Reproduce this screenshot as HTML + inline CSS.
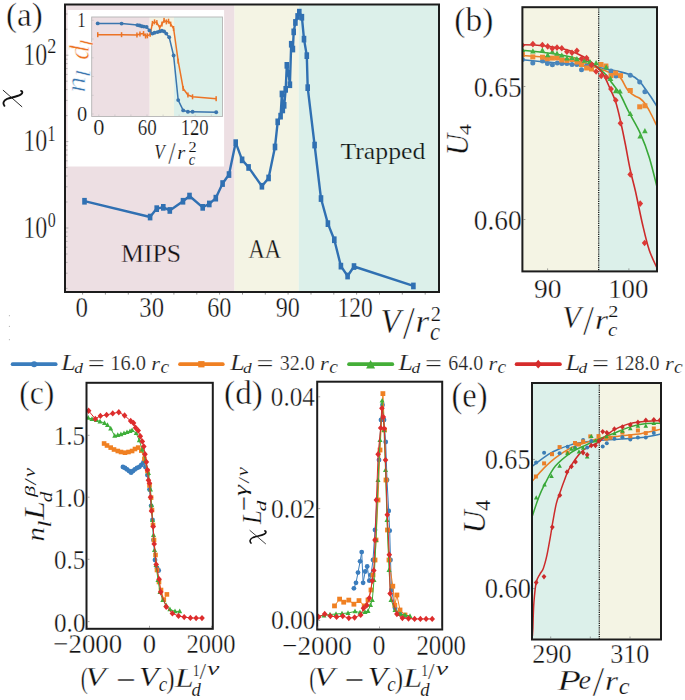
<!DOCTYPE html>
<html><head><meta charset="utf-8"><style>
html,body{margin:0;padding:0;background:#fff;}
svg{display:block;}
</style></head><body>
<svg width="685" height="700" viewBox="0 0 685 700">
<rect x="0" y="0" width="685" height="700" fill="#ffffff"/>
<rect x="65.0" y="4.5" width="169.50" height="287.50" fill="#eddfe3" />
<rect x="234.5" y="4.5" width="64.30" height="287.50" fill="#f4f4e4" />
<rect x="298.8" y="4.5" width="140.20" height="287.50" fill="#dcf0ea" />
<rect x="67.6" y="10.0" width="156.50" height="156.50" fill="#ffffff" />
<rect x="91.7" y="17.0" width="58.00" height="99.50" fill="#eddfe3" />
<rect x="149.7" y="17.0" width="24.30" height="99.50" fill="#f4f4e4" />
<rect x="174.0" y="17.0" width="48.50" height="99.50" fill="#dcf0ea" />
<rect x="91.7" y="17.0" width="130.80" height="99.50" fill="none" stroke="#b4b4b4" stroke-width="0.9"/>
<line x1="98.8" y1="116.5" x2="98.8" y2="114.5" stroke="#c0c0c0" stroke-width="0.6"/>
<line x1="114.9" y1="116.5" x2="114.9" y2="114.5" stroke="#c0c0c0" stroke-width="0.6"/>
<line x1="130.9" y1="116.5" x2="130.9" y2="114.5" stroke="#c0c0c0" stroke-width="0.6"/>
<line x1="147.0" y1="116.5" x2="147.0" y2="114.5" stroke="#c0c0c0" stroke-width="0.6"/>
<line x1="163.1" y1="116.5" x2="163.1" y2="114.5" stroke="#c0c0c0" stroke-width="0.6"/>
<line x1="179.1" y1="116.5" x2="179.1" y2="114.5" stroke="#c0c0c0" stroke-width="0.6"/>
<line x1="195.2" y1="116.5" x2="195.2" y2="114.5" stroke="#c0c0c0" stroke-width="0.6"/>
<line x1="211.3" y1="116.5" x2="211.3" y2="114.5" stroke="#c0c0c0" stroke-width="0.6"/>
<line x1="91.7" y1="114.0" x2="93.7" y2="114.0" stroke="#c0c0c0" stroke-width="0.6"/>
<line x1="91.7" y1="95.3" x2="93.7" y2="95.3" stroke="#c0c0c0" stroke-width="0.6"/>
<line x1="91.7" y1="76.5" x2="93.7" y2="76.5" stroke="#c0c0c0" stroke-width="0.6"/>
<line x1="91.7" y1="57.8" x2="93.7" y2="57.8" stroke="#c0c0c0" stroke-width="0.6"/>
<line x1="91.7" y1="39.0" x2="93.7" y2="39.0" stroke="#c0c0c0" stroke-width="0.6"/>
<line x1="91.7" y1="20.3" x2="93.7" y2="20.3" stroke="#c0c0c0" stroke-width="0.6"/>
<polyline points="97.7,34.7 121.6,34.7 137.0,35.0 140.0,34.0 143.6,33.6 145.5,36.0 147.3,35.8 150.2,34.3 152.4,23.4 154.6,21.9 156.8,22.6 159.7,27.7 161.9,24.1 164.1,20.4 166.3,21.9 168.5,21.2 170.7,24.1 173.6,28.5 178.2,61.2 183.2,88.5 187.9,95.0 192.6,96.8 216.2,98.7" fill="none" stroke="#ec7325" stroke-width="1.5" stroke-linejoin="round" />
<rect x="97.0" y="32.2" width="1.5" height="5.0" fill="#ec7325"/>
<rect x="120.8" y="32.2" width="1.5" height="5.0" fill="#ec7325"/>
<rect x="136.2" y="32.5" width="1.5" height="5.0" fill="#ec7325"/>
<rect x="139.2" y="31.5" width="1.5" height="5.0" fill="#ec7325"/>
<rect x="142.8" y="31.1" width="1.5" height="5.0" fill="#ec7325"/>
<rect x="144.8" y="33.5" width="1.5" height="5.0" fill="#ec7325"/>
<rect x="146.6" y="33.3" width="1.5" height="5.0" fill="#ec7325"/>
<rect x="149.4" y="31.8" width="1.5" height="5.0" fill="#ec7325"/>
<rect x="151.7" y="20.9" width="1.5" height="5.0" fill="#ec7325"/>
<rect x="153.8" y="19.4" width="1.5" height="5.0" fill="#ec7325"/>
<rect x="156.1" y="20.1" width="1.5" height="5.0" fill="#ec7325"/>
<rect x="158.9" y="25.2" width="1.5" height="5.0" fill="#ec7325"/>
<rect x="161.2" y="21.6" width="1.5" height="5.0" fill="#ec7325"/>
<rect x="163.3" y="17.9" width="1.5" height="5.0" fill="#ec7325"/>
<rect x="165.6" y="19.4" width="1.5" height="5.0" fill="#ec7325"/>
<rect x="167.8" y="18.7" width="1.5" height="5.0" fill="#ec7325"/>
<rect x="169.9" y="21.6" width="1.5" height="5.0" fill="#ec7325"/>
<rect x="172.8" y="26.0" width="1.5" height="5.0" fill="#ec7325"/>
<rect x="177.4" y="58.7" width="1.5" height="5.0" fill="#ec7325"/>
<rect x="182.4" y="86.0" width="1.5" height="5.0" fill="#ec7325"/>
<rect x="187.2" y="92.5" width="1.5" height="5.0" fill="#ec7325"/>
<rect x="191.8" y="94.3" width="1.5" height="5.0" fill="#ec7325"/>
<rect x="215.4" y="96.2" width="1.5" height="5.0" fill="#ec7325"/>
<polyline points="97.7,23.4 121.6,23.6 137.4,25.1 139.6,25.5 141.8,26.3 143.9,26.6 146.6,27.0 149.5,30.4 152.4,33.6 154.6,32.8 157.5,32.1 159.7,31.4 161.9,30.7 164.1,31.4 166.3,33.6 169.2,37.2 173.6,55.5 178.2,100.1 183.2,110.4 187.9,111.8 192.6,111.8 216.2,112.3" fill="none" stroke="#3a75ae" stroke-width="1.5" stroke-linejoin="round" />
<circle cx="97.7" cy="23.4" r="1.95" fill="#3a75ae"/>
<circle cx="121.6" cy="23.6" r="1.95" fill="#3a75ae"/>
<circle cx="137.4" cy="25.1" r="1.95" fill="#3a75ae"/>
<circle cx="139.6" cy="25.5" r="1.95" fill="#3a75ae"/>
<circle cx="141.8" cy="26.3" r="1.95" fill="#3a75ae"/>
<circle cx="143.9" cy="26.6" r="1.95" fill="#3a75ae"/>
<circle cx="146.6" cy="27.0" r="1.95" fill="#3a75ae"/>
<circle cx="149.5" cy="30.4" r="1.95" fill="#3a75ae"/>
<circle cx="152.4" cy="33.6" r="1.95" fill="#3a75ae"/>
<circle cx="154.6" cy="32.8" r="1.95" fill="#3a75ae"/>
<circle cx="157.5" cy="32.1" r="1.95" fill="#3a75ae"/>
<circle cx="159.7" cy="31.4" r="1.95" fill="#3a75ae"/>
<circle cx="161.9" cy="30.7" r="1.95" fill="#3a75ae"/>
<circle cx="164.1" cy="31.4" r="1.95" fill="#3a75ae"/>
<circle cx="166.3" cy="33.6" r="1.95" fill="#3a75ae"/>
<circle cx="169.2" cy="37.2" r="1.95" fill="#3a75ae"/>
<circle cx="173.6" cy="55.5" r="1.95" fill="#3a75ae"/>
<circle cx="178.2" cy="100.1" r="1.95" fill="#3a75ae"/>
<circle cx="183.2" cy="110.4" r="1.95" fill="#3a75ae"/>
<circle cx="187.9" cy="111.8" r="1.95" fill="#3a75ae"/>
<circle cx="192.6" cy="111.8" r="1.95" fill="#3a75ae"/>
<circle cx="216.2" cy="112.3" r="1.95" fill="#3a75ae"/>
<rect x="65.0" y="4.5" width="374.00" height="287.50" fill="none" stroke="#1c1c1c" stroke-width="2.0"/>
<line x1="66.0" y1="288.4" x2="67.5" y2="288.4" stroke="#888" stroke-width="0.6"/>
<line x1="66.0" y1="273.2" x2="67.5" y2="273.2" stroke="#888" stroke-width="0.6"/>
<line x1="66.0" y1="262.4" x2="67.5" y2="262.4" stroke="#888" stroke-width="0.6"/>
<line x1="66.0" y1="254.0" x2="67.5" y2="254.0" stroke="#888" stroke-width="0.6"/>
<line x1="66.0" y1="247.2" x2="67.5" y2="247.2" stroke="#888" stroke-width="0.6"/>
<line x1="66.0" y1="241.4" x2="67.5" y2="241.4" stroke="#888" stroke-width="0.6"/>
<line x1="66.0" y1="236.4" x2="67.5" y2="236.4" stroke="#888" stroke-width="0.6"/>
<line x1="66.0" y1="232.0" x2="67.5" y2="232.0" stroke="#888" stroke-width="0.6"/>
<line x1="66.0" y1="228.0" x2="68.4" y2="228.0" stroke="#888" stroke-width="0.6"/>
<line x1="66.0" y1="202.0" x2="67.5" y2="202.0" stroke="#888" stroke-width="0.6"/>
<line x1="66.0" y1="186.8" x2="67.5" y2="186.8" stroke="#888" stroke-width="0.6"/>
<line x1="66.0" y1="176.0" x2="67.5" y2="176.0" stroke="#888" stroke-width="0.6"/>
<line x1="66.0" y1="167.6" x2="67.5" y2="167.6" stroke="#888" stroke-width="0.6"/>
<line x1="66.0" y1="160.8" x2="67.5" y2="160.8" stroke="#888" stroke-width="0.6"/>
<line x1="66.0" y1="155.0" x2="67.5" y2="155.0" stroke="#888" stroke-width="0.6"/>
<line x1="66.0" y1="150.0" x2="67.5" y2="150.0" stroke="#888" stroke-width="0.6"/>
<line x1="66.0" y1="145.6" x2="67.5" y2="145.6" stroke="#888" stroke-width="0.6"/>
<line x1="66.0" y1="141.6" x2="68.4" y2="141.6" stroke="#888" stroke-width="0.6"/>
<line x1="66.0" y1="115.6" x2="67.5" y2="115.6" stroke="#888" stroke-width="0.6"/>
<line x1="66.0" y1="100.4" x2="67.5" y2="100.4" stroke="#888" stroke-width="0.6"/>
<line x1="66.0" y1="89.6" x2="67.5" y2="89.6" stroke="#888" stroke-width="0.6"/>
<line x1="66.0" y1="81.2" x2="67.5" y2="81.2" stroke="#888" stroke-width="0.6"/>
<line x1="66.0" y1="74.4" x2="67.5" y2="74.4" stroke="#888" stroke-width="0.6"/>
<line x1="66.0" y1="68.6" x2="67.5" y2="68.6" stroke="#888" stroke-width="0.6"/>
<line x1="66.0" y1="63.6" x2="67.5" y2="63.6" stroke="#888" stroke-width="0.6"/>
<line x1="66.0" y1="59.2" x2="67.5" y2="59.2" stroke="#888" stroke-width="0.6"/>
<line x1="66.0" y1="55.2" x2="68.4" y2="55.2" stroke="#888" stroke-width="0.6"/>
<line x1="66.0" y1="29.2" x2="67.5" y2="29.2" stroke="#888" stroke-width="0.6"/>
<line x1="66.0" y1="14.0" x2="67.5" y2="14.0" stroke="#888" stroke-width="0.6"/>
<line x1="82.6" y1="293.0" x2="82.6" y2="294.6" stroke="#666" stroke-width="0.7"/>
<line x1="105.4" y1="293.0" x2="105.4" y2="294.6" stroke="#666" stroke-width="0.7"/>
<line x1="128.3" y1="293.0" x2="128.3" y2="294.6" stroke="#666" stroke-width="0.7"/>
<line x1="151.1" y1="293.0" x2="151.1" y2="294.6" stroke="#666" stroke-width="0.7"/>
<line x1="173.9" y1="293.0" x2="173.9" y2="294.6" stroke="#666" stroke-width="0.7"/>
<line x1="196.8" y1="293.0" x2="196.8" y2="294.6" stroke="#666" stroke-width="0.7"/>
<line x1="219.6" y1="293.0" x2="219.6" y2="294.6" stroke="#666" stroke-width="0.7"/>
<line x1="242.5" y1="293.0" x2="242.5" y2="294.6" stroke="#666" stroke-width="0.7"/>
<line x1="265.3" y1="293.0" x2="265.3" y2="294.6" stroke="#666" stroke-width="0.7"/>
<line x1="288.1" y1="293.0" x2="288.1" y2="294.6" stroke="#666" stroke-width="0.7"/>
<line x1="311.0" y1="293.0" x2="311.0" y2="294.6" stroke="#666" stroke-width="0.7"/>
<line x1="333.8" y1="293.0" x2="333.8" y2="294.6" stroke="#666" stroke-width="0.7"/>
<line x1="356.6" y1="293.0" x2="356.6" y2="294.6" stroke="#666" stroke-width="0.7"/>
<line x1="379.5" y1="293.0" x2="379.5" y2="294.6" stroke="#666" stroke-width="0.7"/>
<line x1="402.3" y1="293.0" x2="402.3" y2="294.6" stroke="#666" stroke-width="0.7"/>
<line x1="425.2" y1="293.0" x2="425.2" y2="294.6" stroke="#666" stroke-width="0.7"/>
<polyline points="84.5,201.2 150.1,217.0 156.7,208.6 163.3,207.3 169.8,210.4 183.0,201.2 189.5,196.0 202.7,207.3 209.3,203.9 215.8,198.1 222.6,183.5 229.0,174.5 235.7,142.6 242.1,159.8 248.6,167.4 261.9,186.2 268.6,177.9 275.0,146.9 277.7,121.8 280.6,116.1 281.9,93.9 282.8,109.9 284.2,105.3 285.7,89.3 286.8,65.3 288.5,73.3 289.9,84.7 291.2,44.2 292.9,49.0 293.7,31.8 295.4,22.4 297.6,16.4 299.3,12.1 301.9,17.2 304.0,39.1 306.8,55.6 307.7,87.6 314.6,145.0 321.0,198.5 327.9,223.6 334.3,239.7 340.9,266.1 347.6,276.0 354.0,266.5 413.4,285.9" fill="none" stroke="#3070b2" stroke-width="2.4" stroke-linejoin="round" />
<rect x="82.2" y="197.9" width="4.6" height="6.7" fill="#3070b2"/>
<rect x="147.8" y="213.7" width="4.6" height="6.7" fill="#3070b2"/>
<rect x="154.4" y="205.3" width="4.6" height="6.7" fill="#3070b2"/>
<rect x="161.0" y="204.0" width="4.6" height="6.7" fill="#3070b2"/>
<rect x="167.5" y="207.1" width="4.6" height="6.7" fill="#3070b2"/>
<rect x="180.7" y="197.9" width="4.6" height="6.7" fill="#3070b2"/>
<rect x="187.2" y="192.7" width="4.6" height="6.7" fill="#3070b2"/>
<rect x="200.4" y="204.0" width="4.6" height="6.7" fill="#3070b2"/>
<rect x="207.0" y="200.6" width="4.6" height="6.7" fill="#3070b2"/>
<rect x="213.5" y="194.8" width="4.6" height="6.7" fill="#3070b2"/>
<rect x="220.3" y="180.2" width="4.6" height="6.7" fill="#3070b2"/>
<rect x="226.7" y="171.2" width="4.6" height="6.7" fill="#3070b2"/>
<rect x="233.4" y="139.3" width="4.6" height="6.7" fill="#3070b2"/>
<rect x="239.8" y="156.5" width="4.6" height="6.7" fill="#3070b2"/>
<rect x="246.3" y="164.1" width="4.6" height="6.7" fill="#3070b2"/>
<rect x="259.6" y="182.9" width="4.6" height="6.7" fill="#3070b2"/>
<rect x="266.3" y="174.6" width="4.6" height="6.7" fill="#3070b2"/>
<rect x="272.7" y="143.6" width="4.6" height="6.7" fill="#3070b2"/>
<rect x="275.4" y="118.5" width="4.6" height="6.7" fill="#3070b2"/>
<rect x="278.3" y="112.8" width="4.6" height="6.7" fill="#3070b2"/>
<rect x="279.6" y="90.6" width="4.6" height="6.7" fill="#3070b2"/>
<rect x="280.5" y="106.6" width="4.6" height="6.7" fill="#3070b2"/>
<rect x="281.9" y="102.0" width="4.6" height="6.7" fill="#3070b2"/>
<rect x="283.4" y="86.0" width="4.6" height="6.7" fill="#3070b2"/>
<rect x="284.5" y="62.0" width="4.6" height="6.7" fill="#3070b2"/>
<rect x="286.2" y="70.0" width="4.6" height="6.7" fill="#3070b2"/>
<rect x="287.6" y="81.4" width="4.6" height="6.7" fill="#3070b2"/>
<rect x="288.9" y="40.9" width="4.6" height="6.7" fill="#3070b2"/>
<rect x="290.6" y="45.7" width="4.6" height="6.7" fill="#3070b2"/>
<rect x="291.4" y="28.5" width="4.6" height="6.7" fill="#3070b2"/>
<rect x="293.1" y="19.1" width="4.6" height="6.7" fill="#3070b2"/>
<rect x="295.3" y="13.1" width="4.6" height="6.7" fill="#3070b2"/>
<rect x="297.0" y="8.8" width="4.6" height="6.7" fill="#3070b2"/>
<rect x="299.6" y="13.9" width="4.6" height="6.7" fill="#3070b2"/>
<rect x="301.7" y="35.8" width="4.6" height="6.7" fill="#3070b2"/>
<rect x="304.5" y="52.3" width="4.6" height="6.7" fill="#3070b2"/>
<rect x="305.4" y="84.3" width="4.6" height="6.7" fill="#3070b2"/>
<rect x="312.3" y="141.7" width="4.6" height="6.7" fill="#3070b2"/>
<rect x="318.7" y="195.2" width="4.6" height="6.7" fill="#3070b2"/>
<rect x="325.6" y="220.3" width="4.6" height="6.7" fill="#3070b2"/>
<rect x="332.0" y="236.4" width="4.6" height="6.7" fill="#3070b2"/>
<rect x="338.6" y="262.8" width="4.6" height="6.7" fill="#3070b2"/>
<rect x="345.3" y="272.7" width="4.6" height="6.7" fill="#3070b2"/>
<rect x="351.7" y="263.2" width="4.6" height="6.7" fill="#3070b2"/>
<rect x="411.1" y="282.6" width="4.6" height="6.7" fill="#3070b2"/>
<text transform="translate(5.91,25.95) scale(0.9696,1)" font-size="34.18" font-family='"Liberation Serif", serif' font-style="normal" fill="#111" stroke="#ffffff" stroke-width="0.46">(a)</text>
<text transform="translate(23.27,65.09) scale(0.7827,1)" font-size="30.52" font-family='"Liberation Serif", serif' font-style="normal" fill="#111" stroke="#ffffff" stroke-width="0.39">10</text>
<text transform="translate(47.28,53.20) scale(0.8482,1)" font-size="21.52" font-family='"Liberation Serif", serif' font-style="normal" fill="#111" stroke="#ffffff" stroke-width="0.21">2</text>
<text transform="translate(23.26,151.39) scale(0.7864,1)" font-size="30.52" font-family='"Liberation Serif", serif' font-style="normal" fill="#111" stroke="#ffffff" stroke-width="0.39">10</text>
<text transform="translate(47.44,140.60) scale(0.7258,1)" font-size="22.12" font-family='"Liberation Serif", serif' font-style="normal" fill="#111" stroke="#ffffff" stroke-width="0.22">1</text>
<text transform="translate(23.26,237.89) scale(0.7864,1)" font-size="30.52" font-family='"Liberation Serif", serif' font-style="normal" fill="#111" stroke="#ffffff" stroke-width="0.39">10</text>
<text transform="translate(47.86,226.79) scale(0.7426,1)" font-size="21.48" font-family='"Liberation Serif", serif' font-style="normal" fill="#111" stroke="#ffffff" stroke-width="0.21">0</text>
<path d="M3.21,90.32 L21.87,106.68" stroke="#111" stroke-width="0.9" fill="none" stroke-linecap="round"/>
<path d="M4.45,105.81 C2.60,103.72 3.01,100.59 7.11,98.85 C11.21,97.46 16.95,96.76 20.64,94.67 C23.10,93.28 22.69,91.19 21.05,90.84" stroke="#111" stroke-width="1.9" fill="none" stroke-linecap="round"/>
<text transform="translate(75.60,317.21) scale(0.8654,1)" font-size="28.89" font-family='"Liberation Serif", serif' font-style="normal" fill="#111" stroke="#ffffff" stroke-width="0.36">0</text>
<text transform="translate(139.29,317.21) scale(0.8550,1)" font-size="28.89" font-family='"Liberation Serif", serif' font-style="normal" fill="#111" stroke="#ffffff" stroke-width="0.36">30</text>
<text transform="translate(207.23,317.21) scale(0.8390,1)" font-size="28.89" font-family='"Liberation Serif", serif' font-style="normal" fill="#111" stroke="#ffffff" stroke-width="0.36">60</text>
<text transform="translate(275.68,317.21) scale(0.8337,1)" font-size="28.89" font-family='"Liberation Serif", serif' font-style="normal" fill="#111" stroke="#ffffff" stroke-width="0.36">90</text>
<text transform="translate(337.60,317.21) scale(0.8131,1)" font-size="28.89" font-family='"Liberation Serif", serif' font-style="normal" fill="#111" stroke="#ffffff" stroke-width="0.36">120</text>
<text transform="translate(380.55,332.31) scale(1.0043,1)" font-size="32.84" font-family='"Liberation Serif", serif' font-style="italic" fill="#111" stroke="#ffffff" stroke-width="0.37">V</text>
<text transform="translate(402.80,339.34) scale(0.9666,1)" font-size="45.52" font-family='"Liberation Serif", serif' font-style="normal" fill="#111" stroke="#ffffff" stroke-width="0.69">/</text>
<text transform="translate(415.49,332.30) scale(1.1313,1)" font-size="31.06" font-family='"Liberation Serif", serif' font-style="italic" fill="#111" stroke="#ffffff" stroke-width="0.34">r</text>
<text transform="translate(430.78,320.50) scale(0.9462,1)" font-size="21.67" font-family='"Liberation Serif", serif' font-style="normal" fill="#111" stroke="#ffffff" stroke-width="0.21">2</text>
<text transform="translate(430.02,340.25) scale(0.9240,1)" font-size="24.58" font-family='"Liberation Serif", serif' font-style="italic" fill="#111" stroke="#ffffff" stroke-width="0.22">c</text>
<text transform="translate(340.38,159.20) scale(1.1560,1)" font-size="22.31" font-family='"Liberation Serif", serif' font-style="normal" fill="#111" stroke="#dcf0ea" stroke-width="0.23">Trapped</text>
<text transform="translate(121.03,261.74) scale(0.9857,1)" font-size="26.12" font-family='"Liberation Serif", serif' font-style="normal" fill="#111" stroke="#eddfe3" stroke-width="0.30">MIPS</text>
<text transform="translate(248.47,258.40) scale(0.8544,1)" font-size="26.36" font-family='"Liberation Serif", serif' font-style="normal" fill="#111" stroke="#f4f4e4" stroke-width="0.31">AA</text>
<text transform="translate(77.26,27.10) scale(0.8142,1)" font-size="20.76" font-family='"Liberation Serif", serif' font-style="normal" fill="#111" stroke="#ffffff" stroke-width="0.20">1</text>
<text transform="translate(76.98,121.08) scale(0.9467,1)" font-size="21.63" font-family='"Liberation Serif", serif' font-style="normal" fill="#111" stroke="#ffffff" stroke-width="0.21">0</text>
<text transform="translate(93.20,134.87) scale(0.9939,1)" font-size="22.52" font-family='"Liberation Serif", serif' font-style="normal" fill="#111" stroke="#ffffff" stroke-width="0.23">0</text>
<text transform="translate(137.74,134.87) scale(0.8447,1)" font-size="22.52" font-family='"Liberation Serif", serif' font-style="normal" fill="#111" stroke="#ffffff" stroke-width="0.23">60</text>
<text transform="translate(180.72,134.87) scale(0.8268,1)" font-size="22.52" font-family='"Liberation Serif", serif' font-style="normal" fill="#111" stroke="#ffffff" stroke-width="0.23">120</text>
<text transform="translate(154.25,158.58) scale(0.7956,1)" font-size="21.49" font-family='"Liberation Serif", serif' font-style="italic" fill="#111" stroke="#ffffff" stroke-width="0.17">V</text>
<text transform="translate(168.20,164.48) scale(0.8196,1)" font-size="32.39" font-family='"Liberation Serif", serif' font-style="normal" fill="#111" stroke="#ffffff" stroke-width="0.43">/</text>
<text transform="translate(177.28,158.90) scale(1.0509,1)" font-size="19.57" font-family='"Liberation Serif", serif' font-style="italic" fill="#111" stroke="#ffffff" stroke-width="0.13">r</text>
<text transform="translate(188.57,151.70) scale(1.1658,1)" font-size="13.94" font-family='"Liberation Serif", serif' font-style="normal" fill="#111" stroke="#ffffff" stroke-width="0.06">2</text>
<text transform="translate(188.86,164.62) scale(0.8227,1)" font-size="17.71" font-family='"Liberation Serif", serif' font-style="italic" fill="#111" stroke="#ffffff" stroke-width="0.10">c</text>
<text transform="translate(89.21,59.89) rotate(-90) scale(1.0244,1)" font-size="29.08" font-family='"Liberation Serif", serif' font-style="italic" fill="#ec7325" stroke="#ffffff" stroke-width="0.65">d</text>
<text transform="translate(92.50,46.38) rotate(-90) scale(1.2870,1)" font-size="19.42" font-family='"Liberation Serif", serif' font-style="italic" fill="#ec7325" stroke="#ffffff" stroke-width="0.36">l</text>
<text transform="translate(85.00,92.61) rotate(-90) scale(1.1944,1)" font-size="26.60" font-family='"Liberation Serif", serif' font-style="italic" fill="#3a75ae" stroke="#ffffff" stroke-width="0.58">n</text>
<text transform="translate(89.50,77.51) rotate(-90) scale(1.3181,1)" font-size="20.86" font-family='"Liberation Serif", serif' font-style="italic" fill="#3a75ae" stroke="#ffffff" stroke-width="0.41">l</text>
<rect x="522.4" y="7.2" width="76.30" height="264.20" fill="#f4f4e4" />
<rect x="598.7" y="7.2" width="58.30" height="264.20" fill="#dcf0ea" />
<line x1="598.7" y1="7.2" x2="598.7" y2="271.4" stroke="#111" stroke-width="1.25" stroke-dasharray="1.2,1.0"/>
<defs><clipPath id="cb"><rect x="522.4" y="7.2" width="134.60000000000002" height="264.2"/></clipPath><clipPath id="ce"><rect x="532" y="383" width="129" height="256.5"/></clipPath></defs>
<g clip-path="url(#cb)">
<path d="M522.4,59.8 C525.3,60.1 534.6,61.0 540.0,61.5 C545.4,62.0 550.0,62.4 555.0,62.8 C560.0,63.2 565.0,63.5 570.0,64.0 C575.0,64.5 580.2,64.9 585.0,65.5 C589.8,66.1 594.4,66.8 598.6,67.5 C602.8,68.2 606.4,69.1 610.0,69.8 C613.6,70.5 617.0,71.1 620.0,71.8 C623.0,72.5 625.5,73.0 628.0,74.0 C630.5,75.0 632.8,76.0 635.0,77.5 C637.2,79.0 639.2,80.9 641.0,83.0 C642.8,85.1 644.3,87.7 646.0,90.0 C647.7,92.3 649.2,94.2 651.0,97.0 C652.8,99.8 656.0,104.9 657.0,106.5" fill="none" stroke="#3b7db5" stroke-width="1.6" />
<path d="M522.4,55.5 C525.3,55.7 534.6,56.4 540.0,56.8 C545.4,57.2 550.0,57.5 555.0,58.0 C560.0,58.5 565.3,59.0 570.0,59.8 C574.7,60.5 579.3,61.5 583.0,62.5 C586.7,63.5 589.4,64.5 592.0,65.5 C594.6,66.5 596.3,67.6 598.6,68.5 C600.9,69.4 603.8,70.2 606.0,71.0 C608.2,71.8 610.0,72.5 612.0,73.2 C614.0,74.0 616.3,74.4 618.0,75.5 C619.7,76.6 620.7,78.0 622.0,80.0 C623.3,82.0 624.7,85.4 626.0,87.5 C627.3,89.6 628.5,91.1 630.0,92.5 C631.5,93.9 633.3,95.0 635.0,96.0 C636.7,97.0 638.3,97.2 640.0,98.5 C641.7,99.8 643.3,101.2 645.0,103.5 C646.7,105.8 648.0,108.2 650.0,112.0 C652.0,115.8 655.8,123.7 657.0,126.0" fill="none" stroke="#ea7f28" stroke-width="1.6" />
<path d="M522.4,50.2 C525.3,50.5 534.6,51.4 540.0,52.0 C545.4,52.6 550.0,53.2 555.0,54.0 C560.0,54.8 565.3,55.8 570.0,56.8 C574.7,57.8 579.3,58.9 583.0,60.0 C586.7,61.1 589.4,62.1 592.0,63.5 C594.6,64.9 596.3,66.3 598.6,68.2 C600.9,70.1 603.8,72.5 606.0,75.0 C608.2,77.5 609.7,79.8 612.0,83.0 C614.3,86.2 617.2,89.2 620.0,94.0 C622.8,98.8 625.4,105.3 628.8,111.9 C632.2,118.5 637.1,126.3 640.5,133.8 C643.9,141.4 646.5,148.3 649.2,157.2 C652.0,166.1 655.7,182.0 657.0,187.0" fill="none" stroke="#38a838" stroke-width="1.6" />
<path d="M522.4,44.8 C524.5,44.8 530.7,44.8 535.0,45.0 C539.3,45.2 543.8,45.8 548.0,46.3 C552.2,46.8 556.0,47.4 560.0,48.3 C564.0,49.2 568.2,50.1 572.0,51.5 C575.8,52.9 579.8,54.8 583.0,56.5 C586.2,58.2 588.4,59.8 591.0,61.8 C593.6,63.8 596.4,66.5 598.6,68.8 C600.8,71.1 602.1,72.3 604.0,75.5 C605.9,78.7 607.8,83.6 609.8,88.0 C611.8,92.4 613.9,96.5 615.7,102.0 C617.5,107.5 618.9,113.8 620.5,121.0 C622.1,128.2 623.9,136.8 625.5,145.0 C627.1,153.2 628.6,162.3 630.3,170.0 C631.9,177.7 633.3,181.8 635.4,191.0 C637.5,200.2 640.4,215.2 642.7,225.0 C645.0,234.8 646.8,242.8 649.2,250.0 C651.6,257.2 655.7,265.0 657.0,268.0" fill="none" stroke="#cc2b2b" stroke-width="1.6" />
<circle cx="522.4" cy="59.5" r="2.50" fill="#4a86bb"/>
<circle cx="532.8" cy="63.0" r="2.50" fill="#4a86bb"/>
<circle cx="542.5" cy="61.0" r="2.50" fill="#4a86bb"/>
<circle cx="547.4" cy="63.6" r="2.50" fill="#4a86bb"/>
<circle cx="552.4" cy="64.8" r="2.50" fill="#4a86bb"/>
<circle cx="557.3" cy="63.0" r="2.50" fill="#4a86bb"/>
<circle cx="561.8" cy="63.6" r="2.50" fill="#4a86bb"/>
<circle cx="566.9" cy="63.6" r="2.50" fill="#4a86bb"/>
<circle cx="572.0" cy="64.5" r="2.50" fill="#4a86bb"/>
<circle cx="576.9" cy="64.5" r="2.50" fill="#4a86bb"/>
<circle cx="581.5" cy="69.8" r="2.50" fill="#4a86bb"/>
<circle cx="586.6" cy="66.0" r="2.50" fill="#4a86bb"/>
<circle cx="591.5" cy="66.5" r="2.50" fill="#4a86bb"/>
<circle cx="606.0" cy="67.0" r="2.50" fill="#4a86bb"/>
<circle cx="611.0" cy="71.0" r="2.50" fill="#4a86bb"/>
<circle cx="616.0" cy="76.0" r="2.50" fill="#4a86bb"/>
<circle cx="630.3" cy="75.2" r="2.50" fill="#4a86bb"/>
<circle cx="639.7" cy="82.0" r="2.50" fill="#4a86bb"/>
<circle cx="644.9" cy="91.7" r="2.50" fill="#4a86bb"/>
<rect x="519.9" y="52.1" width="5.0" height="5.0" fill="#ef8a34"/>
<rect x="530.3" y="54.4" width="5.0" height="5.0" fill="#ef8a34"/>
<rect x="540.0" y="54.7" width="5.0" height="5.0" fill="#ef8a34"/>
<rect x="544.9" y="56.2" width="5.0" height="5.0" fill="#ef8a34"/>
<rect x="549.9" y="55.6" width="5.0" height="5.0" fill="#ef8a34"/>
<rect x="554.8" y="55.4" width="5.0" height="5.0" fill="#ef8a34"/>
<rect x="559.3" y="57.5" width="5.0" height="5.0" fill="#ef8a34"/>
<rect x="564.4" y="58.0" width="5.0" height="5.0" fill="#ef8a34"/>
<rect x="569.5" y="57.0" width="5.0" height="5.0" fill="#ef8a34"/>
<rect x="574.4" y="59.5" width="5.0" height="5.0" fill="#ef8a34"/>
<rect x="579.0" y="62.0" width="5.0" height="5.0" fill="#ef8a34"/>
<rect x="584.1" y="65.5" width="5.0" height="5.0" fill="#ef8a34"/>
<rect x="589.0" y="66.5" width="5.0" height="5.0" fill="#ef8a34"/>
<rect x="598.5" y="62.0" width="5.0" height="5.0" fill="#ef8a34"/>
<rect x="603.4" y="63.5" width="5.0" height="5.0" fill="#ef8a34"/>
<rect x="608.5" y="73.1" width="5.0" height="5.0" fill="#ef8a34"/>
<rect x="613.2" y="70.5" width="5.0" height="5.0" fill="#ef8a34"/>
<rect x="618.0" y="73.1" width="5.0" height="5.0" fill="#ef8a34"/>
<rect x="627.8" y="88.0" width="5.0" height="5.0" fill="#ef8a34"/>
<rect x="637.2" y="104.3" width="5.0" height="5.0" fill="#ef8a34"/>
<rect x="642.4" y="103.3" width="5.0" height="5.0" fill="#ef8a34"/>
<polygon points="522.4,46.8 525.2,52.0 519.6,52.0" fill="#45b042"/>
<polygon points="532.9,48.3 535.7,53.5 530.1,53.5" fill="#45b042"/>
<polygon points="542.4,47.3 545.2,52.5 539.6,52.5" fill="#45b042"/>
<polygon points="547.7,52.1 550.5,57.3 544.9,57.3" fill="#45b042"/>
<polygon points="552.3,48.7 555.1,53.9 549.5,53.9" fill="#45b042"/>
<polygon points="557.0,50.6 559.8,55.8 554.2,55.8" fill="#45b042"/>
<polygon points="561.8,52.4 564.6,57.6 559.0,57.6" fill="#45b042"/>
<polygon points="566.9,55.3 569.7,60.5 564.1,60.5" fill="#45b042"/>
<polygon points="572.0,54.9 574.8,60.1 569.2,60.1" fill="#45b042"/>
<polygon points="576.9,56.0 579.7,61.2 574.1,61.2" fill="#45b042"/>
<polygon points="584.5,57.5 587.3,62.7 581.7,62.7" fill="#45b042"/>
<polygon points="590.0,58.9 592.8,64.1 587.2,64.1" fill="#45b042"/>
<polygon points="596.1,60.0 598.9,65.2 593.3,65.2" fill="#45b042"/>
<polygon points="606.2,64.3 609.0,69.5 603.4,69.5" fill="#45b042"/>
<polygon points="610.5,75.7 613.3,80.9 607.7,80.9" fill="#45b042"/>
<polygon points="615.7,88.1 618.5,93.3 612.9,93.3" fill="#45b042"/>
<polygon points="620.0,88.4 622.8,93.6 617.2,93.6" fill="#45b042"/>
<polygon points="630.3,110.9 633.1,116.1 627.5,116.1" fill="#45b042"/>
<polygon points="640.2,133.3 643.0,138.5 637.4,138.5" fill="#45b042"/>
<polygon points="644.9,128.1 647.7,133.3 642.1,133.3" fill="#45b042"/>
<polygon points="522.4,41.9 525.2,45.2 522.4,48.5 519.5,45.2" fill="#dc3a36"/>
<polygon points="532.9,40.8 535.8,44.1 532.9,47.4 530.0,44.1" fill="#dc3a36"/>
<polygon points="542.4,41.7 545.2,45.0 542.4,48.3 539.5,45.0" fill="#dc3a36"/>
<polygon points="547.7,43.1 550.6,46.4 547.7,49.7 544.9,46.4" fill="#dc3a36"/>
<polygon points="552.3,45.2 555.1,48.5 552.3,51.8 549.4,48.5" fill="#dc3a36"/>
<polygon points="557.0,44.3 559.9,47.6 557.0,50.9 554.1,47.6" fill="#dc3a36"/>
<polygon points="561.8,44.9 564.6,48.2 561.8,51.5 558.9,48.2" fill="#dc3a36"/>
<polygon points="566.9,48.5 569.8,51.8 566.9,55.1 564.0,51.8" fill="#dc3a36"/>
<polygon points="572.0,49.5 574.9,52.8 572.0,56.1 569.1,52.8" fill="#dc3a36"/>
<polygon points="576.9,47.5 579.8,50.8 576.9,54.1 574.0,50.8" fill="#dc3a36"/>
<polygon points="581.5,55.5 584.4,58.8 581.5,62.1 578.6,58.8" fill="#dc3a36"/>
<polygon points="586.6,54.8 589.5,58.1 586.6,61.4 583.8,58.1" fill="#dc3a36"/>
<polygon points="591.5,61.7 594.4,65.0 591.5,68.3 588.6,65.0" fill="#dc3a36"/>
<polygon points="596.1,68.2 599.0,71.5 596.1,74.8 593.2,71.5" fill="#dc3a36"/>
<polygon points="601.2,72.6 604.1,75.9 601.2,79.2 598.4,75.9" fill="#dc3a36"/>
<polygon points="606.4,74.1 609.2,77.4 606.4,80.7 603.5,77.4" fill="#dc3a36"/>
<polygon points="611.0,85.7 613.9,89.0 611.0,92.3 608.1,89.0" fill="#dc3a36"/>
<polygon points="615.7,96.9 618.6,100.2 615.7,103.5 612.9,100.2" fill="#dc3a36"/>
<polygon points="620.5,120.0 623.4,123.3 620.5,126.6 617.6,123.3" fill="#dc3a36"/>
<polygon points="630.3,171.1 633.1,174.4 630.3,177.7 627.4,174.4" fill="#dc3a36"/>
<polygon points="640.2,200.3 643.1,203.6 640.2,206.9 637.4,203.6" fill="#dc3a36"/>
<polygon points="644.6,239.7 647.5,243.0 644.6,246.3 641.8,243.0" fill="#dc3a36"/>
</g>
<rect x="522.4" y="7.2" width="134.60" height="264.20" fill="none" stroke="#1c1c1c" stroke-width="2.0"/>
<line x1="523.4" y1="86.5" x2="525.4" y2="86.5" stroke="#666" stroke-width="0.6"/>
<line x1="523.4" y1="219.5" x2="525.4" y2="219.5" stroke="#666" stroke-width="0.6"/>
<line x1="547.6" y1="270.4" x2="547.6" y2="268.4" stroke="#666" stroke-width="0.6"/>
<line x1="628.9" y1="270.4" x2="628.9" y2="268.4" stroke="#666" stroke-width="0.6"/>
<text transform="translate(454.30,30.80) scale(0.9844,1)" font-size="33.96" font-family='"Liberation Serif", serif' font-style="normal" fill="#111" stroke="#ffffff" stroke-width="0.46">(b)</text>
<text transform="translate(473.70,97.15) scale(0.9053,1)" font-size="30.29" font-family='"Liberation Serif", serif' font-style="normal" fill="#111" stroke="#ffffff" stroke-width="0.39">0.65</text>
<text transform="translate(473.70,229.76) scale(0.9278,1)" font-size="29.56" font-family='"Liberation Serif", serif' font-style="normal" fill="#111" stroke="#ffffff" stroke-width="0.37">0.60</text>
<text transform="translate(533.97,298.22) scale(0.9990,1)" font-size="27.56" font-family='"Liberation Serif", serif' font-style="normal" fill="#111" stroke="#ffffff" stroke-width="0.33">90</text>
<text transform="translate(608.23,298.22) scale(0.9713,1)" font-size="27.56" font-family='"Liberation Serif", serif' font-style="normal" fill="#111" stroke="#ffffff" stroke-width="0.33">100</text>
<text transform="translate(562.17,328.24) scale(1.0029,1)" font-size="30.60" font-family='"Liberation Serif", serif' font-style="italic" fill="#111" stroke="#ffffff" stroke-width="0.33">V</text>
<text transform="translate(583.10,334.88) scale(0.9384,1)" font-size="42.24" font-family='"Liberation Serif", serif' font-style="normal" fill="#111" stroke="#ffffff" stroke-width="0.62">/</text>
<text transform="translate(595.06,328.70) scale(1.2275,1)" font-size="27.23" font-family='"Liberation Serif", serif' font-style="italic" fill="#111" stroke="#ffffff" stroke-width="0.27">r</text>
<text transform="translate(608.29,317.40) scale(1.1423,1)" font-size="17.73" font-family='"Liberation Serif", serif' font-style="normal" fill="#111" stroke="#ffffff" stroke-width="0.13">2</text>
<text transform="translate(607.97,335.62) scale(1.1579,1)" font-size="18.12" font-family='"Liberation Serif", serif' font-style="italic" fill="#111" stroke="#ffffff" stroke-width="0.11">c</text>
<text transform="translate(467.68,155.41) rotate(-90) scale(0.9389,1)" font-size="32.03" font-family='"Liberation Serif", serif' font-style="italic" fill="#111" stroke="#ffffff" stroke-width="0.36">U</text>
<text transform="translate(471.10,135.14) rotate(-90) scale(1.2712,1)" font-size="17.42" font-family='"Liberation Serif", serif' font-style="normal" fill="#111" stroke="#ffffff" stroke-width="0.13">4</text>
<line x1="12.6" y1="364.2" x2="55.699999999999996" y2="364.2" stroke="#3a7dbd" stroke-width="3.7" stroke-linecap="round"/>
<circle cx="34.1" cy="364.2" r="3.00" fill="#3a7dbd"/>
<text transform="translate(61.36,370.40) scale(1.1727,1)" font-size="22.14" font-family='"Liberation Serif", serif' font-style="italic" fill="#222" stroke="#ffffff" stroke-width="0.18">L</text>
<text transform="translate(74.28,373.25) scale(1.1714,1)" font-size="14.89" font-family='"Liberation Serif", serif' font-style="italic" fill="#222" stroke="#ffffff" stroke-width="0.05">d</text>
<text transform="translate(87.69,372.07) scale(1.1947,1)" font-size="25.20" font-family='"Liberation Serif", serif' font-style="normal" fill="#222" stroke="#ffffff" stroke-width="0.28">=</text>
<text transform="translate(110.16,370.08) scale(0.9610,1)" font-size="21.32" font-family='"Liberation Serif", serif' font-style="normal" fill="#222" stroke="#ffffff" stroke-width="0.21">16.0</text>
<text transform="translate(151.30,370.40) scale(1.1407,1)" font-size="19.79" font-family='"Liberation Serif", serif' font-style="italic" fill="#222" stroke="#ffffff" stroke-width="0.14">r</text>
<text transform="translate(160.41,373.22) scale(1.0640,1)" font-size="18.33" font-family='"Liberation Serif", serif' font-style="italic" fill="#222" stroke="#ffffff" stroke-width="0.11">c</text>
<line x1="180.0" y1="364.2" x2="222.8" y2="364.2" stroke="#f08022" stroke-width="3.7" stroke-linecap="round"/>
<rect x="198.2" y="361.1" width="6.3" height="6.3" fill="#f08022"/>
<text transform="translate(230.16,370.40) scale(1.1727,1)" font-size="22.14" font-family='"Liberation Serif", serif' font-style="italic" fill="#222" stroke="#ffffff" stroke-width="0.18">L</text>
<text transform="translate(243.08,373.25) scale(1.1714,1)" font-size="14.89" font-family='"Liberation Serif", serif' font-style="italic" fill="#222" stroke="#ffffff" stroke-width="0.05">d</text>
<text transform="translate(256.49,372.07) scale(1.1947,1)" font-size="25.20" font-family='"Liberation Serif", serif' font-style="normal" fill="#222" stroke="#ffffff" stroke-width="0.28">=</text>
<text transform="translate(279.80,370.08) scale(0.9379,1)" font-size="21.32" font-family='"Liberation Serif", serif' font-style="normal" fill="#222" stroke="#ffffff" stroke-width="0.21">32.0</text>
<text transform="translate(320.10,370.40) scale(1.1407,1)" font-size="19.79" font-family='"Liberation Serif", serif' font-style="italic" fill="#222" stroke="#ffffff" stroke-width="0.14">r</text>
<text transform="translate(329.21,373.22) scale(1.0640,1)" font-size="18.33" font-family='"Liberation Serif", serif' font-style="italic" fill="#222" stroke="#ffffff" stroke-width="0.11">c</text>
<line x1="349.0" y1="364.2" x2="392.29999999999995" y2="364.2" stroke="#44ae38" stroke-width="3.7" stroke-linecap="round"/>
<polygon points="370.6,360.1 375.1,368.5 366.1,368.5" fill="#44ae38"/>
<text transform="translate(398.56,370.40) scale(1.1727,1)" font-size="22.14" font-family='"Liberation Serif", serif' font-style="italic" fill="#222" stroke="#ffffff" stroke-width="0.18">L</text>
<text transform="translate(411.48,373.25) scale(1.1714,1)" font-size="14.89" font-family='"Liberation Serif", serif' font-style="italic" fill="#222" stroke="#ffffff" stroke-width="0.05">d</text>
<text transform="translate(424.89,372.07) scale(1.1947,1)" font-size="25.20" font-family='"Liberation Serif", serif' font-style="normal" fill="#222" stroke="#ffffff" stroke-width="0.28">=</text>
<text transform="translate(448.30,370.08) scale(0.9351,1)" font-size="21.32" font-family='"Liberation Serif", serif' font-style="normal" fill="#222" stroke="#ffffff" stroke-width="0.21">64.0</text>
<text transform="translate(488.50,370.40) scale(1.1407,1)" font-size="19.79" font-family='"Liberation Serif", serif' font-style="italic" fill="#222" stroke="#ffffff" stroke-width="0.14">r</text>
<text transform="translate(497.61,373.22) scale(1.0640,1)" font-size="18.33" font-family='"Liberation Serif", serif' font-style="italic" fill="#222" stroke="#ffffff" stroke-width="0.11">c</text>
<line x1="516.6" y1="364.2" x2="559.9" y2="364.2" stroke="#d62c2c" stroke-width="3.7" stroke-linecap="round"/>
<polygon points="538.2,359.8 542.0,364.2 538.2,368.6 534.5,364.2" fill="#d62c2c"/>
<text transform="translate(565.66,370.40) scale(1.1727,1)" font-size="22.14" font-family='"Liberation Serif", serif' font-style="italic" fill="#222" stroke="#ffffff" stroke-width="0.18">L</text>
<text transform="translate(578.58,373.25) scale(1.1714,1)" font-size="14.89" font-family='"Liberation Serif", serif' font-style="italic" fill="#222" stroke="#ffffff" stroke-width="0.05">d</text>
<text transform="translate(591.99,372.07) scale(1.1947,1)" font-size="25.20" font-family='"Liberation Serif", serif' font-style="normal" fill="#222" stroke="#ffffff" stroke-width="0.28">=</text>
<text transform="translate(614.50,370.08) scale(0.9401,1)" font-size="21.32" font-family='"Liberation Serif", serif' font-style="normal" fill="#222" stroke="#ffffff" stroke-width="0.21">128.0</text>
<text transform="translate(664.90,370.40) scale(1.1407,1)" font-size="19.79" font-family='"Liberation Serif", serif' font-style="italic" fill="#222" stroke="#ffffff" stroke-width="0.14">r</text>
<text transform="translate(674.01,373.22) scale(1.0640,1)" font-size="18.33" font-family='"Liberation Serif", serif' font-style="italic" fill="#222" stroke="#ffffff" stroke-width="0.11">c</text>
<defs><clipPath id="cc"><rect x="86.5" y="382.8" width="126.30000000000001" height="245.99999999999994"/></clipPath><clipPath id="cd"><rect x="317.2" y="381.7" width="125" height="247.8"/></clipPath></defs>
<g clip-path="url(#cc)">
<polyline points="122.9,467.0 125.0,468.0 127.0,469.4 129.0,471.0 131.1,472.7 133.0,471.0 134.8,469.4 137.0,468.0 139.3,467.0 141.3,465.0 143.4,462.5 145.4,467.0 147.4,475.1 149.5,489.5 151.1,505.8 152.5,520.0 153.5,540.0 155.0,560.0 157.0,568.0 158.7,570.5" fill="none" stroke="#3b7dbd" stroke-width="1.0" stroke-linejoin="round" />
<circle cx="122.9" cy="467.0" r="2.40" fill="#3b7dbd"/>
<circle cx="125.0" cy="468.0" r="2.40" fill="#3b7dbd"/>
<circle cx="127.0" cy="469.4" r="2.40" fill="#3b7dbd"/>
<circle cx="129.0" cy="471.0" r="2.40" fill="#3b7dbd"/>
<circle cx="131.1" cy="472.7" r="2.40" fill="#3b7dbd"/>
<circle cx="133.0" cy="471.0" r="2.40" fill="#3b7dbd"/>
<circle cx="134.8" cy="469.4" r="2.40" fill="#3b7dbd"/>
<circle cx="137.0" cy="468.0" r="2.40" fill="#3b7dbd"/>
<circle cx="139.3" cy="467.0" r="2.40" fill="#3b7dbd"/>
<circle cx="141.3" cy="465.0" r="2.40" fill="#3b7dbd"/>
<circle cx="143.4" cy="462.5" r="2.40" fill="#3b7dbd"/>
<circle cx="145.4" cy="467.0" r="2.40" fill="#3b7dbd"/>
<circle cx="147.4" cy="475.1" r="2.40" fill="#3b7dbd"/>
<circle cx="149.5" cy="489.5" r="2.40" fill="#3b7dbd"/>
<circle cx="151.1" cy="505.8" r="2.40" fill="#3b7dbd"/>
<circle cx="152.5" cy="520.0" r="2.40" fill="#3b7dbd"/>
<circle cx="153.5" cy="540.0" r="2.40" fill="#3b7dbd"/>
<circle cx="155.0" cy="560.0" r="2.40" fill="#3b7dbd"/>
<circle cx="157.0" cy="568.0" r="2.40" fill="#3b7dbd"/>
<circle cx="158.7" cy="570.5" r="2.40" fill="#3b7dbd"/>
<polyline points="104.1,443.5 107.0,445.5 110.7,447.6 114.0,449.5 117.8,451.0 121.0,452.0 125.0,452.7 128.5,452.0 132.1,451.0 135.0,449.0 138.2,447.6 141.3,450.6 144.4,458.8 147.4,471.0 149.5,485.4 151.1,497.6 152.0,510.0 153.0,525.0 154.0,540.0 155.5,555.0 157.0,570.0 159.0,582.0 161.0,590.0 163.8,599.7 166.9,594.4" fill="none" stroke="#f08022" stroke-width="1.0" stroke-linejoin="round" />
<rect x="101.8" y="441.2" width="4.6" height="4.6" fill="#f08022"/>
<rect x="104.7" y="443.2" width="4.6" height="4.6" fill="#f08022"/>
<rect x="108.4" y="445.3" width="4.6" height="4.6" fill="#f08022"/>
<rect x="111.7" y="447.2" width="4.6" height="4.6" fill="#f08022"/>
<rect x="115.5" y="448.7" width="4.6" height="4.6" fill="#f08022"/>
<rect x="118.7" y="449.7" width="4.6" height="4.6" fill="#f08022"/>
<rect x="122.7" y="450.4" width="4.6" height="4.6" fill="#f08022"/>
<rect x="126.2" y="449.7" width="4.6" height="4.6" fill="#f08022"/>
<rect x="129.8" y="448.7" width="4.6" height="4.6" fill="#f08022"/>
<rect x="132.7" y="446.7" width="4.6" height="4.6" fill="#f08022"/>
<rect x="135.9" y="445.3" width="4.6" height="4.6" fill="#f08022"/>
<rect x="139.0" y="448.3" width="4.6" height="4.6" fill="#f08022"/>
<rect x="142.1" y="456.5" width="4.6" height="4.6" fill="#f08022"/>
<rect x="145.1" y="468.7" width="4.6" height="4.6" fill="#f08022"/>
<rect x="147.2" y="483.1" width="4.6" height="4.6" fill="#f08022"/>
<rect x="148.8" y="495.3" width="4.6" height="4.6" fill="#f08022"/>
<rect x="149.7" y="507.7" width="4.6" height="4.6" fill="#f08022"/>
<rect x="150.7" y="522.7" width="4.6" height="4.6" fill="#f08022"/>
<rect x="151.7" y="537.7" width="4.6" height="4.6" fill="#f08022"/>
<rect x="153.2" y="552.7" width="4.6" height="4.6" fill="#f08022"/>
<rect x="154.7" y="567.7" width="4.6" height="4.6" fill="#f08022"/>
<rect x="156.7" y="579.7" width="4.6" height="4.6" fill="#f08022"/>
<rect x="158.7" y="587.7" width="4.6" height="4.6" fill="#f08022"/>
<rect x="161.5" y="597.4" width="4.6" height="4.6" fill="#f08022"/>
<rect x="164.6" y="592.1" width="4.6" height="4.6" fill="#f08022"/>
<polyline points="88.2,417.9 92.0,419.0 96.3,420.0 100.0,421.5 104.5,423.0 107.5,425.0 110.7,428.5 114.7,435.9 117.8,435.0 120.9,434.3 124.0,433.2 127.0,432.2 130.0,431.2 132.1,430.2 136.2,433.2 139.3,440.4 142.3,449.6 145.4,460.8 148.5,473.1 150.5,489.5 151.5,505.0 152.5,520.0 153.5,535.0 154.5,550.0 156.0,565.0 158.0,580.0 160.0,592.0 162.8,600.1 166.0,605.0 169.9,609.3 175.0,611.4 179.7,611.4" fill="none" stroke="#3fae3a" stroke-width="1.0" stroke-linejoin="round" />
<polygon points="88.2,415.1 90.7,419.8 85.7,419.8" fill="#3fae3a"/>
<polygon points="92.0,416.2 94.5,420.9 89.5,420.9" fill="#3fae3a"/>
<polygon points="96.3,417.2 98.8,421.9 93.8,421.9" fill="#3fae3a"/>
<polygon points="100.0,418.8 102.5,423.4 97.5,423.4" fill="#3fae3a"/>
<polygon points="104.5,420.2 107.0,424.9 102.0,424.9" fill="#3fae3a"/>
<polygon points="107.5,422.2 110.0,426.9 105.0,426.9" fill="#3fae3a"/>
<polygon points="110.7,425.8 113.2,430.4 108.2,430.4" fill="#3fae3a"/>
<polygon points="114.7,433.1 117.2,437.8 112.2,437.8" fill="#3fae3a"/>
<polygon points="117.8,432.2 120.3,436.9 115.3,436.9" fill="#3fae3a"/>
<polygon points="120.9,431.6 123.4,436.2 118.4,436.2" fill="#3fae3a"/>
<polygon points="124.0,430.4 126.5,435.1 121.5,435.1" fill="#3fae3a"/>
<polygon points="127.0,429.4 129.5,434.1 124.5,434.1" fill="#3fae3a"/>
<polygon points="130.0,428.4 132.5,433.1 127.5,433.1" fill="#3fae3a"/>
<polygon points="132.1,427.4 134.6,432.1 129.6,432.1" fill="#3fae3a"/>
<polygon points="136.2,430.4 138.7,435.1 133.7,435.1" fill="#3fae3a"/>
<polygon points="139.3,437.6 141.8,442.3 136.8,442.3" fill="#3fae3a"/>
<polygon points="142.3,446.9 144.8,451.5 139.8,451.5" fill="#3fae3a"/>
<polygon points="145.4,458.1 147.9,462.7 142.9,462.7" fill="#3fae3a"/>
<polygon points="148.5,470.4 151.0,475.0 146.0,475.0" fill="#3fae3a"/>
<polygon points="150.5,486.8 153.0,491.4 148.0,491.4" fill="#3fae3a"/>
<polygon points="151.5,502.2 154.0,506.9 149.0,506.9" fill="#3fae3a"/>
<polygon points="152.5,517.2 155.0,521.9 150.0,521.9" fill="#3fae3a"/>
<polygon points="153.5,532.2 156.0,536.9 151.0,536.9" fill="#3fae3a"/>
<polygon points="154.5,547.2 157.0,551.9 152.0,551.9" fill="#3fae3a"/>
<polygon points="156.0,562.2 158.5,566.9 153.5,566.9" fill="#3fae3a"/>
<polygon points="158.0,577.2 160.5,581.9 155.5,581.9" fill="#3fae3a"/>
<polygon points="160.0,589.2 162.5,593.9 157.5,593.9" fill="#3fae3a"/>
<polygon points="162.8,597.4 165.3,602.0 160.3,602.0" fill="#3fae3a"/>
<polygon points="166.0,602.2 168.5,606.9 163.5,606.9" fill="#3fae3a"/>
<polygon points="169.9,606.5 172.4,611.2 167.4,611.2" fill="#3fae3a"/>
<polygon points="175.0,608.6 177.5,613.3 172.5,613.3" fill="#3fae3a"/>
<polygon points="179.7,608.6 182.2,613.3 177.2,613.3" fill="#3fae3a"/>
<polyline points="88.6,410.8 95.3,418.9 100.4,415.9 106.6,414.9 112.7,413.4 118.8,412.2 124.6,415.5 130.7,421.0 133.5,423.0 135.6,427.7 138.2,430.6 140.3,436.3 142.3,441.4 143.8,446.5 145.0,454.3 146.4,461.9 147.4,470.0 148.5,480.3 149.5,483.3 150.5,497.2 151.5,510.9 153.2,526.6 154.2,543.9 156.2,564.4 159.1,579.3 160.7,592.0 166.2,606.7 172.4,613.4 178.5,615.9 184.2,617.1 190.4,617.9 196.1,618.1 202.0,618.1" fill="none" stroke="#dd2c2c" stroke-width="1.0" stroke-linejoin="round" />
<polygon points="88.6,407.6 91.4,410.8 88.6,414.0 85.8,410.8" fill="#dd2c2c"/>
<polygon points="95.3,415.7 98.1,418.9 95.3,422.1 92.5,418.9" fill="#dd2c2c"/>
<polygon points="100.4,412.7 103.2,415.9 100.4,419.1 97.6,415.9" fill="#dd2c2c"/>
<polygon points="106.6,411.7 109.4,414.9 106.6,418.1 103.8,414.9" fill="#dd2c2c"/>
<polygon points="112.7,410.2 115.5,413.4 112.7,416.6 109.9,413.4" fill="#dd2c2c"/>
<polygon points="118.8,409.0 121.6,412.2 118.8,415.4 116.0,412.2" fill="#dd2c2c"/>
<polygon points="124.6,412.3 127.4,415.5 124.6,418.7 121.8,415.5" fill="#dd2c2c"/>
<polygon points="130.7,417.8 133.5,421.0 130.7,424.2 127.9,421.0" fill="#dd2c2c"/>
<polygon points="133.5,419.8 136.3,423.0 133.5,426.2 130.7,423.0" fill="#dd2c2c"/>
<polygon points="135.6,424.5 138.4,427.7 135.6,430.9 132.8,427.7" fill="#dd2c2c"/>
<polygon points="138.2,427.4 141.0,430.6 138.2,433.8 135.4,430.6" fill="#dd2c2c"/>
<polygon points="140.3,433.1 143.1,436.3 140.3,439.5 137.5,436.3" fill="#dd2c2c"/>
<polygon points="142.3,438.2 145.1,441.4 142.3,444.6 139.5,441.4" fill="#dd2c2c"/>
<polygon points="143.8,443.3 146.6,446.5 143.8,449.7 141.0,446.5" fill="#dd2c2c"/>
<polygon points="145.0,451.1 147.8,454.3 145.0,457.5 142.2,454.3" fill="#dd2c2c"/>
<polygon points="146.4,458.7 149.2,461.9 146.4,465.1 143.6,461.9" fill="#dd2c2c"/>
<polygon points="147.4,466.8 150.2,470.0 147.4,473.2 144.6,470.0" fill="#dd2c2c"/>
<polygon points="148.5,477.1 151.3,480.3 148.5,483.5 145.7,480.3" fill="#dd2c2c"/>
<polygon points="149.5,480.1 152.3,483.3 149.5,486.5 146.7,483.3" fill="#dd2c2c"/>
<polygon points="150.5,494.0 153.3,497.2 150.5,500.4 147.7,497.2" fill="#dd2c2c"/>
<polygon points="151.5,507.7 154.3,510.9 151.5,514.1 148.7,510.9" fill="#dd2c2c"/>
<polygon points="153.2,523.4 156.0,526.6 153.2,529.8 150.4,526.6" fill="#dd2c2c"/>
<polygon points="154.2,540.7 157.0,543.9 154.2,547.1 151.4,543.9" fill="#dd2c2c"/>
<polygon points="156.2,561.2 159.0,564.4 156.2,567.6 153.4,564.4" fill="#dd2c2c"/>
<polygon points="159.1,576.1 161.9,579.3 159.1,582.5 156.3,579.3" fill="#dd2c2c"/>
<polygon points="160.7,588.8 163.5,592.0 160.7,595.2 157.9,592.0" fill="#dd2c2c"/>
<polygon points="166.2,603.5 169.0,606.7 166.2,609.9 163.4,606.7" fill="#dd2c2c"/>
<polygon points="172.4,610.2 175.2,613.4 172.4,616.6 169.6,613.4" fill="#dd2c2c"/>
<polygon points="178.5,612.7 181.3,615.9 178.5,619.1 175.7,615.9" fill="#dd2c2c"/>
<polygon points="184.2,613.9 187.0,617.1 184.2,620.3 181.4,617.1" fill="#dd2c2c"/>
<polygon points="190.4,614.7 193.2,617.9 190.4,621.1 187.6,617.9" fill="#dd2c2c"/>
<polygon points="196.1,614.9 198.9,618.1 196.1,621.3 193.3,618.1" fill="#dd2c2c"/>
<polygon points="202.0,614.9 204.8,618.1 202.0,621.3 199.2,618.1" fill="#dd2c2c"/>
</g>
<rect x="86.5" y="382.8" width="126.30" height="246.00" fill="none" stroke="#1c1c1c" stroke-width="2.0"/>
<line x1="87.5" y1="435.3" x2="89.5" y2="435.3" stroke="#666" stroke-width="0.6"/>
<line x1="87.5" y1="497.2" x2="89.5" y2="497.2" stroke="#666" stroke-width="0.6"/>
<line x1="87.5" y1="559.3" x2="89.5" y2="559.3" stroke="#666" stroke-width="0.6"/>
<line x1="87.5" y1="621.6" x2="89.5" y2="621.6" stroke="#666" stroke-width="0.6"/>
<line x1="87.5" y1="627.8" x2="87.5" y2="625.8" stroke="#666" stroke-width="0.6"/>
<line x1="149.5" y1="627.8" x2="149.5" y2="625.8" stroke="#666" stroke-width="0.6"/>
<line x1="211.5" y1="627.8" x2="211.5" y2="625.8" stroke="#666" stroke-width="0.6"/>
<text transform="translate(19.17,404.28) scale(0.9324,1)" font-size="34.07" font-family='"Liberation Serif", serif' font-style="normal" fill="#111" stroke="#ffffff" stroke-width="0.46">(c)</text>
<text transform="translate(53.65,444.69) scale(0.9261,1)" font-size="27.26" font-family='"Liberation Serif", serif' font-style="normal" fill="#111" stroke="#ffffff" stroke-width="0.33">1.5</text>
<text transform="translate(53.63,506.99) scale(0.9327,1)" font-size="27.35" font-family='"Liberation Serif", serif' font-style="normal" fill="#111" stroke="#ffffff" stroke-width="0.33">1.0</text>
<text transform="translate(54.00,569.38) scale(0.8932,1)" font-size="27.94" font-family='"Liberation Serif", serif' font-style="normal" fill="#111" stroke="#ffffff" stroke-width="0.34">0.5</text>
<text transform="translate(53.99,631.78) scale(0.9024,1)" font-size="27.94" font-family='"Liberation Serif", serif' font-style="normal" fill="#111" stroke="#ffffff" stroke-width="0.34">0.0</text>
<text transform="translate(53.36,653.32) scale(0.9751,1)" font-size="27.56" font-family='"Liberation Serif", serif' font-style="normal" fill="#111" stroke="#ffffff" stroke-width="0.33">−2000</text>
<text transform="translate(142.63,653.33) scale(0.9730,1)" font-size="27.41" font-family='"Liberation Serif", serif' font-style="normal" fill="#111" stroke="#ffffff" stroke-width="0.33">0</text>
<text transform="translate(186.40,653.33) scale(0.8936,1)" font-size="27.41" font-family='"Liberation Serif", serif' font-style="normal" fill="#111" stroke="#ffffff" stroke-width="0.33">2000</text>
<text transform="translate(80.65,687.93) scale(0.7033,1)" font-size="30.11" font-family='"Liberation Serif", serif' font-style="normal" fill="#111" stroke="#ffffff" stroke-width="0.38">(</text>
<text transform="translate(85.33,686.41) scale(1.2728,1)" font-size="26.27" font-family='"Liberation Serif", serif' font-style="italic" fill="#111" stroke="#ffffff" stroke-width="0.25">V</text>
<text transform="translate(115.94,693.40) scale(0.8817,1)" font-size="40.00" font-family='"Liberation Serif", serif' font-style="normal" fill="#111" stroke="#ffffff" stroke-width="0.58">−</text>
<text transform="translate(139.11,686.41) scale(1.2089,1)" font-size="26.27" font-family='"Liberation Serif", serif' font-style="italic" fill="#111" stroke="#ffffff" stroke-width="0.25">V</text>
<text transform="translate(158.73,690.90) scale(0.9312,1)" font-size="20.42" font-family='"Liberation Serif", serif' font-style="italic" fill="#111" stroke="#ffffff" stroke-width="0.15">c</text>
<text transform="translate(166.25,687.93) scale(0.8303,1)" font-size="30.11" font-family='"Liberation Serif", serif' font-style="normal" fill="#111" stroke="#ffffff" stroke-width="0.38">)</text>
<text transform="translate(174.94,686.80) scale(1.2525,1)" font-size="26.87" font-family='"Liberation Serif", serif' font-style="italic" fill="#111" stroke="#ffffff" stroke-width="0.26">L</text>
<text transform="translate(191.54,696.41) scale(1.0076,1)" font-size="18.58" font-family='"Liberation Serif", serif' font-style="italic" fill="#111" stroke="#ffffff" stroke-width="0.11">d</text>
<text transform="translate(192.92,675.50) scale(0.7275,1)" font-size="17.42" font-family='"Liberation Serif", serif' font-style="normal" fill="#111" stroke="#ffffff" stroke-width="0.13">1</text>
<text transform="translate(199.50,678.87) scale(1.0152,1)" font-size="23.28" font-family='"Liberation Serif", serif' font-style="normal" fill="#111" stroke="#ffffff" stroke-width="0.25">/</text>
<text transform="translate(207.08,675.32) scale(1.5431,1)" font-size="18.09" font-family='"Liberation Serif", serif' font-style="italic" fill="#111" stroke="#ffffff" stroke-width="0.11">ν</text>
<text transform="translate(44.30,541.50) rotate(-90) scale(1.1059,1)" font-size="25.96" font-family='"Liberation Serif", serif' font-style="italic" fill="#111" stroke="#ffffff" stroke-width="0.25">n</text>
<text transform="translate(50.50,527.38) rotate(-90) scale(1.3900,1)" font-size="17.99" font-family='"Liberation Serif", serif' font-style="italic" fill="#111" stroke="#ffffff" stroke-width="0.10">l</text>
<text transform="translate(44.30,519.67) rotate(-90) scale(1.1720,1)" font-size="28.55" font-family='"Liberation Serif", serif' font-style="italic" fill="#111" stroke="#ffffff" stroke-width="0.29">L</text>
<text transform="translate(51.83,502.55) rotate(-90) scale(1.2541,1)" font-size="17.30" font-family='"Liberation Serif", serif' font-style="italic" fill="#111" stroke="#ffffff" stroke-width="0.09">d</text>
<text transform="translate(34.58,497.06) rotate(-90) scale(1.6452,1)" font-size="13.59" font-family='"Liberation Serif", serif' font-style="italic" fill="#111" stroke="#ffffff" stroke-width="0.02">β</text>
<text transform="translate(35.84,485.50) rotate(-90) scale(1.6612,1)" font-size="16.42" font-family='"Liberation Serif", serif' font-style="normal" fill="#111" stroke="#ffffff" stroke-width="0.11">/</text>
<text transform="translate(34.83,477.32) rotate(-90) scale(1.2433,1)" font-size="17.02" font-family='"Liberation Serif", serif' font-style="italic" fill="#111" stroke="#ffffff" stroke-width="0.09">ν</text>
<g clip-path="url(#cd)">
<polyline points="353.9,588.3 356.0,582.8 358.0,572.6 360.1,561.3 361.7,552.1 363.1,582.8 365.2,571.5 367.2,566.4 369.3,580.7 371.0,575.0 373.0,560.0 375.0,530.0 377.0,500.0 379.0,460.0 381.0,420.0 382.5,405.0 384.0,420.0 385.7,442.0 387.0,480.0 388.7,511.0 389.7,530.7 390.5,560.0 391.5,590.0 395.0,608.0 400.0,614.0 405.0,616.0" fill="none" stroke="#3b7dbd" stroke-width="1.0" stroke-linejoin="round" />
<circle cx="353.9" cy="588.3" r="2.40" fill="#3b7dbd"/>
<circle cx="356.0" cy="582.8" r="2.40" fill="#3b7dbd"/>
<circle cx="358.0" cy="572.6" r="2.40" fill="#3b7dbd"/>
<circle cx="360.1" cy="561.3" r="2.40" fill="#3b7dbd"/>
<circle cx="361.7" cy="552.1" r="2.40" fill="#3b7dbd"/>
<circle cx="363.1" cy="582.8" r="2.40" fill="#3b7dbd"/>
<circle cx="365.2" cy="571.5" r="2.40" fill="#3b7dbd"/>
<circle cx="367.2" cy="566.4" r="2.40" fill="#3b7dbd"/>
<circle cx="369.3" cy="580.7" r="2.40" fill="#3b7dbd"/>
<circle cx="371.0" cy="575.0" r="2.40" fill="#3b7dbd"/>
<circle cx="373.0" cy="560.0" r="2.40" fill="#3b7dbd"/>
<circle cx="375.0" cy="530.0" r="2.40" fill="#3b7dbd"/>
<circle cx="377.0" cy="500.0" r="2.40" fill="#3b7dbd"/>
<circle cx="379.0" cy="460.0" r="2.40" fill="#3b7dbd"/>
<circle cx="381.0" cy="420.0" r="2.40" fill="#3b7dbd"/>
<circle cx="382.5" cy="405.0" r="2.40" fill="#3b7dbd"/>
<circle cx="384.0" cy="420.0" r="2.40" fill="#3b7dbd"/>
<circle cx="385.7" cy="442.0" r="2.40" fill="#3b7dbd"/>
<circle cx="387.0" cy="480.0" r="2.40" fill="#3b7dbd"/>
<circle cx="388.7" cy="511.0" r="2.40" fill="#3b7dbd"/>
<circle cx="389.7" cy="530.7" r="2.40" fill="#3b7dbd"/>
<circle cx="390.5" cy="560.0" r="2.40" fill="#3b7dbd"/>
<circle cx="391.5" cy="590.0" r="2.40" fill="#3b7dbd"/>
<circle cx="395.0" cy="608.0" r="2.40" fill="#3b7dbd"/>
<circle cx="400.0" cy="614.0" r="2.40" fill="#3b7dbd"/>
<circle cx="405.0" cy="616.0" r="2.40" fill="#3b7dbd"/>
<polyline points="334.5,605.9 339.6,599.1 343.7,602.2 348.8,600.1 353.9,604.2 359.0,600.6 364.2,605.9 368.0,600.0 371.0,590.0 373.0,575.0 375.0,560.0 376.0,540.0 378.0,500.0 380.0,450.0 382.9,393.6 384.5,430.0 386.0,480.0 387.5,530.0 389.0,560.0 392.8,586.2 394.8,605.2 396.9,595.0 400.0,610.0 405.0,615.0" fill="none" stroke="#f08022" stroke-width="1.0" stroke-linejoin="round" />
<rect x="332.1" y="603.5" width="4.8" height="4.8" fill="#f08022"/>
<rect x="337.2" y="596.7" width="4.8" height="4.8" fill="#f08022"/>
<rect x="341.3" y="599.8" width="4.8" height="4.8" fill="#f08022"/>
<rect x="346.4" y="597.7" width="4.8" height="4.8" fill="#f08022"/>
<rect x="351.5" y="601.8" width="4.8" height="4.8" fill="#f08022"/>
<rect x="356.6" y="598.2" width="4.8" height="4.8" fill="#f08022"/>
<rect x="361.8" y="603.5" width="4.8" height="4.8" fill="#f08022"/>
<rect x="365.6" y="597.6" width="4.8" height="4.8" fill="#f08022"/>
<rect x="368.6" y="587.6" width="4.8" height="4.8" fill="#f08022"/>
<rect x="370.6" y="572.6" width="4.8" height="4.8" fill="#f08022"/>
<rect x="372.6" y="557.6" width="4.8" height="4.8" fill="#f08022"/>
<rect x="373.6" y="537.6" width="4.8" height="4.8" fill="#f08022"/>
<rect x="375.6" y="497.6" width="4.8" height="4.8" fill="#f08022"/>
<rect x="377.6" y="447.6" width="4.8" height="4.8" fill="#f08022"/>
<rect x="380.5" y="391.2" width="4.8" height="4.8" fill="#f08022"/>
<rect x="382.1" y="427.6" width="4.8" height="4.8" fill="#f08022"/>
<rect x="383.6" y="477.6" width="4.8" height="4.8" fill="#f08022"/>
<rect x="385.1" y="527.6" width="4.8" height="4.8" fill="#f08022"/>
<rect x="386.6" y="557.6" width="4.8" height="4.8" fill="#f08022"/>
<rect x="390.4" y="583.8" width="4.8" height="4.8" fill="#f08022"/>
<rect x="392.4" y="602.8" width="4.8" height="4.8" fill="#f08022"/>
<rect x="394.5" y="592.6" width="4.8" height="4.8" fill="#f08022"/>
<rect x="397.6" y="607.6" width="4.8" height="4.8" fill="#f08022"/>
<rect x="402.6" y="612.6" width="4.8" height="4.8" fill="#f08022"/>
<polyline points="318.0,616.0 324.0,615.5 330.0,614.5 336.0,614.0 342.0,613.5 348.0,613.0 355.0,611.4 360.0,612.5 365.0,612.0 368.0,611.0 370.5,605.0 372.3,600.0 374.0,580.0 376.0,540.0 378.0,480.0 380.0,440.0 382.1,400.7 384.0,430.0 385.5,470.0 387.0,520.0 389.0,570.0 391.0,600.0 395.0,610.0 400.0,614.0 405.0,615.0 410.0,616.0" fill="none" stroke="#3fae3a" stroke-width="1.0" stroke-linejoin="round" />
<polygon points="318.0,613.2 320.5,617.9 315.5,617.9" fill="#3fae3a"/>
<polygon points="324.0,612.8 326.5,617.4 321.5,617.4" fill="#3fae3a"/>
<polygon points="330.0,611.8 332.5,616.4 327.5,616.4" fill="#3fae3a"/>
<polygon points="336.0,611.2 338.5,615.9 333.5,615.9" fill="#3fae3a"/>
<polygon points="342.0,610.8 344.5,615.4 339.5,615.4" fill="#3fae3a"/>
<polygon points="348.0,610.2 350.5,614.9 345.5,614.9" fill="#3fae3a"/>
<polygon points="355.0,608.6 357.5,613.3 352.5,613.3" fill="#3fae3a"/>
<polygon points="360.0,609.8 362.5,614.4 357.5,614.4" fill="#3fae3a"/>
<polygon points="365.0,609.2 367.5,613.9 362.5,613.9" fill="#3fae3a"/>
<polygon points="368.0,608.2 370.5,612.9 365.5,612.9" fill="#3fae3a"/>
<polygon points="370.5,602.2 373.0,606.9 368.0,606.9" fill="#3fae3a"/>
<polygon points="372.3,597.2 374.8,601.9 369.8,601.9" fill="#3fae3a"/>
<polygon points="374.0,577.2 376.5,581.9 371.5,581.9" fill="#3fae3a"/>
<polygon points="376.0,537.2 378.5,541.9 373.5,541.9" fill="#3fae3a"/>
<polygon points="378.0,477.2 380.5,481.9 375.5,481.9" fill="#3fae3a"/>
<polygon points="380.0,437.2 382.5,441.9 377.5,441.9" fill="#3fae3a"/>
<polygon points="382.1,397.9 384.6,402.6 379.6,402.6" fill="#3fae3a"/>
<polygon points="384.0,427.2 386.5,431.9 381.5,431.9" fill="#3fae3a"/>
<polygon points="385.5,467.2 388.0,471.9 383.0,471.9" fill="#3fae3a"/>
<polygon points="387.0,517.2 389.5,521.9 384.5,521.9" fill="#3fae3a"/>
<polygon points="389.0,567.2 391.5,571.9 386.5,571.9" fill="#3fae3a"/>
<polygon points="391.0,597.2 393.5,601.9 388.5,601.9" fill="#3fae3a"/>
<polygon points="395.0,607.2 397.5,611.9 392.5,611.9" fill="#3fae3a"/>
<polygon points="400.0,611.2 402.5,615.9 397.5,615.9" fill="#3fae3a"/>
<polygon points="405.0,612.2 407.5,616.9 402.5,616.9" fill="#3fae3a"/>
<polygon points="410.0,613.2 412.5,617.9 407.5,617.9" fill="#3fae3a"/>
<polyline points="318.6,616.9 324.7,614.0 330.4,616.1 336.6,616.9 342.7,616.1 348.8,618.1 354.6,617.5 360.7,614.9 363.5,608.3 366.8,605.2 369.3,598.1 372.3,580.7 373.8,570.5 375.0,540.0 376.4,500.0 378.1,454.3 380.7,427.9 381.9,408.3 383.3,417.1 384.3,428.6 385.5,460.0 387.3,514.7 389.3,554.8 390.1,593.6 396.9,614.0 402.4,618.1 408.5,618.5 414.6,618.9 420.4,618.9 426.1,618.9 432.2,618.9" fill="none" stroke="#dd2c2c" stroke-width="1.0" stroke-linejoin="round" />
<polygon points="318.6,613.7 321.4,616.9 318.6,620.1 315.8,616.9" fill="#dd2c2c"/>
<polygon points="324.7,610.8 327.5,614.0 324.7,617.2 321.9,614.0" fill="#dd2c2c"/>
<polygon points="330.4,612.9 333.2,616.1 330.4,619.3 327.6,616.1" fill="#dd2c2c"/>
<polygon points="336.6,613.7 339.4,616.9 336.6,620.1 333.8,616.9" fill="#dd2c2c"/>
<polygon points="342.7,612.9 345.5,616.1 342.7,619.3 339.9,616.1" fill="#dd2c2c"/>
<polygon points="348.8,614.9 351.6,618.1 348.8,621.3 346.0,618.1" fill="#dd2c2c"/>
<polygon points="354.6,614.3 357.4,617.5 354.6,620.7 351.8,617.5" fill="#dd2c2c"/>
<polygon points="360.7,611.7 363.5,614.9 360.7,618.1 357.9,614.9" fill="#dd2c2c"/>
<polygon points="363.5,605.1 366.3,608.3 363.5,611.5 360.7,608.3" fill="#dd2c2c"/>
<polygon points="366.8,602.0 369.6,605.2 366.8,608.4 364.0,605.2" fill="#dd2c2c"/>
<polygon points="369.3,594.9 372.1,598.1 369.3,601.3 366.5,598.1" fill="#dd2c2c"/>
<polygon points="372.3,577.5 375.1,580.7 372.3,583.9 369.5,580.7" fill="#dd2c2c"/>
<polygon points="373.8,567.3 376.6,570.5 373.8,573.7 371.0,570.5" fill="#dd2c2c"/>
<polygon points="375.0,536.8 377.8,540.0 375.0,543.2 372.2,540.0" fill="#dd2c2c"/>
<polygon points="376.4,496.8 379.2,500.0 376.4,503.2 373.6,500.0" fill="#dd2c2c"/>
<polygon points="378.1,451.1 380.9,454.3 378.1,457.5 375.3,454.3" fill="#dd2c2c"/>
<polygon points="380.7,424.7 383.5,427.9 380.7,431.1 377.9,427.9" fill="#dd2c2c"/>
<polygon points="381.9,405.1 384.7,408.3 381.9,411.5 379.1,408.3" fill="#dd2c2c"/>
<polygon points="383.3,413.9 386.1,417.1 383.3,420.3 380.5,417.1" fill="#dd2c2c"/>
<polygon points="384.3,425.4 387.1,428.6 384.3,431.8 381.5,428.6" fill="#dd2c2c"/>
<polygon points="385.5,456.8 388.3,460.0 385.5,463.2 382.7,460.0" fill="#dd2c2c"/>
<polygon points="387.3,511.5 390.1,514.7 387.3,517.9 384.5,514.7" fill="#dd2c2c"/>
<polygon points="389.3,551.6 392.1,554.8 389.3,558.0 386.5,554.8" fill="#dd2c2c"/>
<polygon points="390.1,590.4 392.9,593.6 390.1,596.8 387.3,593.6" fill="#dd2c2c"/>
<polygon points="396.9,610.8 399.7,614.0 396.9,617.2 394.1,614.0" fill="#dd2c2c"/>
<polygon points="402.4,614.9 405.2,618.1 402.4,621.3 399.6,618.1" fill="#dd2c2c"/>
<polygon points="408.5,615.3 411.3,618.5 408.5,621.7 405.7,618.5" fill="#dd2c2c"/>
<polygon points="414.6,615.7 417.4,618.9 414.6,622.1 411.8,618.9" fill="#dd2c2c"/>
<polygon points="420.4,615.7 423.2,618.9 420.4,622.1 417.6,618.9" fill="#dd2c2c"/>
<polygon points="426.1,615.7 428.9,618.9 426.1,622.1 423.3,618.9" fill="#dd2c2c"/>
<polygon points="432.2,615.7 435.0,618.9 432.2,622.1 429.4,618.9" fill="#dd2c2c"/>
</g>
<rect x="317.2" y="381.7" width="125.00" height="247.80" fill="none" stroke="#1c1c1c" stroke-width="2.0"/>
<line x1="318.2" y1="396.8" x2="320.2" y2="396.8" stroke="#666" stroke-width="0.6"/>
<line x1="318.2" y1="508.6" x2="320.2" y2="508.6" stroke="#666" stroke-width="0.6"/>
<line x1="318.2" y1="620.4" x2="320.2" y2="620.4" stroke="#666" stroke-width="0.6"/>
<line x1="317.4" y1="628.5" x2="317.4" y2="626.5" stroke="#666" stroke-width="0.6"/>
<line x1="379.5" y1="628.5" x2="379.5" y2="626.5" stroke="#666" stroke-width="0.6"/>
<line x1="441.6" y1="628.5" x2="441.6" y2="626.5" stroke="#666" stroke-width="0.6"/>
<text transform="translate(224.11,404.28) scale(0.9731,1)" font-size="34.07" font-family='"Liberation Serif", serif' font-style="normal" fill="#111" stroke="#ffffff" stroke-width="0.46">(d)</text>
<text transform="translate(270.79,406.29) scale(0.9112,1)" font-size="27.65" font-family='"Liberation Serif", serif' font-style="normal" fill="#111" stroke="#ffffff" stroke-width="0.33">0.04</text>
<text transform="translate(270.98,517.59) scale(0.9179,1)" font-size="27.65" font-family='"Liberation Serif", serif' font-style="normal" fill="#111" stroke="#ffffff" stroke-width="0.33">0.02</text>
<text transform="translate(270.98,629.39) scale(0.9205,1)" font-size="27.65" font-family='"Liberation Serif", serif' font-style="normal" fill="#111" stroke="#ffffff" stroke-width="0.33">0.00</text>
<text transform="translate(282.14,654.52) scale(0.9675,1)" font-size="28.15" font-family='"Liberation Serif", serif' font-style="normal" fill="#111" stroke="#ffffff" stroke-width="0.34">−2000</text>
<text transform="translate(372.56,654.51) scale(0.9077,1)" font-size="28.59" font-family='"Liberation Serif", serif' font-style="normal" fill="#111" stroke="#ffffff" stroke-width="0.35">0</text>
<text transform="translate(416.38,654.51) scale(0.8675,1)" font-size="28.59" font-family='"Liberation Serif", serif' font-style="normal" fill="#111" stroke="#ffffff" stroke-width="0.35">2000</text>
<text transform="translate(309.25,687.93) scale(0.7033,1)" font-size="30.11" font-family='"Liberation Serif", serif' font-style="normal" fill="#111" stroke="#ffffff" stroke-width="0.38">(</text>
<text transform="translate(313.93,686.41) scale(1.2728,1)" font-size="26.27" font-family='"Liberation Serif", serif' font-style="italic" fill="#111" stroke="#ffffff" stroke-width="0.25">V</text>
<text transform="translate(344.54,693.40) scale(0.8817,1)" font-size="40.00" font-family='"Liberation Serif", serif' font-style="normal" fill="#111" stroke="#ffffff" stroke-width="0.58">−</text>
<text transform="translate(367.71,686.41) scale(1.2089,1)" font-size="26.27" font-family='"Liberation Serif", serif' font-style="italic" fill="#111" stroke="#ffffff" stroke-width="0.25">V</text>
<text transform="translate(387.33,690.90) scale(0.9312,1)" font-size="20.42" font-family='"Liberation Serif", serif' font-style="italic" fill="#111" stroke="#ffffff" stroke-width="0.15">c</text>
<text transform="translate(394.85,687.93) scale(0.8303,1)" font-size="30.11" font-family='"Liberation Serif", serif' font-style="normal" fill="#111" stroke="#ffffff" stroke-width="0.38">)</text>
<text transform="translate(403.54,686.80) scale(1.2525,1)" font-size="26.87" font-family='"Liberation Serif", serif' font-style="italic" fill="#111" stroke="#ffffff" stroke-width="0.26">L</text>
<text transform="translate(420.14,696.41) scale(1.0076,1)" font-size="18.58" font-family='"Liberation Serif", serif' font-style="italic" fill="#111" stroke="#ffffff" stroke-width="0.11">d</text>
<text transform="translate(421.52,675.50) scale(0.7275,1)" font-size="17.42" font-family='"Liberation Serif", serif' font-style="normal" fill="#111" stroke="#ffffff" stroke-width="0.13">1</text>
<text transform="translate(428.10,678.87) scale(1.0152,1)" font-size="23.28" font-family='"Liberation Serif", serif' font-style="normal" fill="#111" stroke="#ffffff" stroke-width="0.25">/</text>
<text transform="translate(435.68,675.32) scale(1.5431,1)" font-size="18.09" font-family='"Liberation Serif", serif' font-style="italic" fill="#111" stroke="#ffffff" stroke-width="0.11">ν</text>
<path d="M249.92,530.43 L265.57,543.77" stroke="#111" stroke-width="0.8" fill="none" stroke-linecap="round"/>
<path d="M250.95,543.06 C249.40,541.36 249.74,538.80 253.18,537.38 C256.62,536.25 261.44,535.68 264.54,533.98 C266.60,532.84 266.26,531.14 264.88,530.85" stroke="#111" stroke-width="1.6" fill="none" stroke-linecap="round"/>
<text transform="translate(261.20,524.05) rotate(-90) scale(0.8977,1)" font-size="27.63" font-family='"Liberation Serif", serif' font-style="italic" fill="#111" stroke="#ffffff" stroke-width="0.28">L</text>
<text transform="translate(265.57,511.46) rotate(-90) scale(1.6978,1)" font-size="12.91" font-family='"Liberation Serif", serif' font-style="italic" fill="#111" stroke="#ffffff" stroke-width="0.01">d</text>
<text transform="translate(256.70,511.34) rotate(-90) scale(0.6720,1)" font-size="40.00" font-family='"Liberation Serif", serif' font-style="normal" fill="#111" stroke="#ffffff" stroke-width="0.58">−</text>
<text transform="translate(247.05,496.06) rotate(-90) scale(1.5159,1)" font-size="18.37" font-family='"Liberation Serif", serif' font-style="italic" fill="#111" stroke="#ffffff" stroke-width="0.11">γ</text>
<text transform="translate(248.84,483.50) rotate(-90) scale(1.5227,1)" font-size="15.52" font-family='"Liberation Serif", serif' font-style="normal" fill="#111" stroke="#ffffff" stroke-width="0.09">/</text>
<text transform="translate(247.83,476.31) rotate(-90) scale(1.2160,1)" font-size="17.02" font-family='"Liberation Serif", serif' font-style="italic" fill="#111" stroke="#ffffff" stroke-width="0.09">ν</text>
<rect x="532.0" y="383.0" width="67.30" height="256.50" fill="#dcf0ea" />
<rect x="599.3" y="383.0" width="61.70" height="256.50" fill="#f4f4e4" />
<line x1="599.3" y1="383.0" x2="599.3" y2="639.5" stroke="#111" stroke-width="1.25" stroke-dasharray="1.2,1.0"/>
<g clip-path="url(#ce)">
<path d="M532.0,466.5 C534.7,464.5 543.7,457.4 548.4,454.4 C553.1,451.4 556.1,450.2 560.0,448.6 C563.9,447.0 567.8,445.7 571.7,444.6 C575.6,443.6 578.9,443.0 583.4,442.3 C587.9,441.6 593.2,440.9 599.0,440.4 C604.8,439.9 611.3,439.7 618.4,439.2 C625.5,438.7 634.7,438.5 641.8,437.6 C648.9,436.8 657.8,434.7 661.0,434.1" fill="none" stroke="#3b7db5" stroke-width="1.5" />
<path d="M532.0,481.5 C534.0,479.3 539.8,472.3 543.7,468.4 C547.6,464.5 550.7,461.4 555.4,457.9 C560.1,454.4 566.7,449.9 571.7,447.4 C576.8,444.9 581.2,444.2 585.7,442.7 C590.2,441.2 593.5,439.6 599.0,438.5 C604.5,437.4 611.3,437.1 618.4,436.2 C625.5,435.3 634.7,434.6 641.8,433.4 C648.9,432.2 657.8,429.9 661.0,429.2" fill="none" stroke="#ea7f28" stroke-width="1.5" />
<path d="M532.0,517.0 C533.1,513.8 536.5,503.1 538.6,497.7 C540.7,492.3 541.7,490.0 544.5,484.7 C547.3,479.4 550.9,471.5 555.4,466.1 C559.9,460.7 566.7,455.6 571.7,452.1 C576.8,448.6 581.2,447.2 585.7,445.1 C590.2,443.0 594.3,441.1 599.0,439.2 C603.7,437.2 608.6,435.4 613.8,433.4 C619.0,431.3 624.6,428.5 630.1,426.9 C635.6,425.3 641.4,424.2 646.5,423.6 C651.6,423.0 658.6,423.4 661.0,423.4" fill="none" stroke="#38a838" stroke-width="1.5" />
<path d="M532.4,636.0 C532.5,634.7 532.6,633.6 532.9,628.0 C533.1,622.4 533.3,610.1 533.9,602.5 C534.5,594.9 535.2,587.2 536.2,582.5 C537.2,577.8 538.6,576.6 539.8,574.3 C541.0,571.9 542.1,571.5 543.3,568.4 C544.5,565.2 545.7,560.7 546.9,555.4 C548.1,550.1 549.4,542.1 550.4,536.6 C551.4,531.1 551.7,527.9 552.7,522.4 C553.7,516.9 555.1,508.5 556.3,503.6 C557.5,498.7 558.4,496.9 559.8,493.0 C561.2,489.1 562.9,484.1 564.5,480.0 C566.1,475.9 566.6,473.0 569.4,468.4 C572.2,463.8 577.2,456.0 581.1,452.1 C585.0,448.2 589.7,446.9 592.7,445.1 C595.7,443.4 595.5,444.1 599.0,441.6 C602.5,439.1 609.0,432.8 613.8,429.9 C618.6,427.0 623.1,425.5 627.8,424.1 C632.5,422.7 636.3,422.3 641.8,421.7 C647.3,421.1 657.8,420.8 661.0,420.6" fill="none" stroke="#cc2b2b" stroke-width="1.5" />
<circle cx="536.1" cy="462.4" r="2.00" fill="#3b7db5"/>
<circle cx="544.1" cy="452.7" r="2.00" fill="#3b7db5"/>
<circle cx="559.6" cy="453.2" r="2.00" fill="#3b7db5"/>
<circle cx="567.6" cy="446.8" r="2.00" fill="#3b7db5"/>
<circle cx="575.0" cy="447.8" r="2.00" fill="#3b7db5"/>
<circle cx="583.1" cy="439.9" r="2.00" fill="#3b7db5"/>
<circle cx="587.2" cy="447.6" r="2.00" fill="#3b7db5"/>
<circle cx="591.3" cy="440.9" r="2.00" fill="#3b7db5"/>
<circle cx="602.7" cy="446.4" r="2.00" fill="#3b7db5"/>
<circle cx="606.8" cy="443.3" r="2.00" fill="#3b7db5"/>
<circle cx="614.4" cy="438.7" r="2.00" fill="#3b7db5"/>
<circle cx="622.4" cy="437.2" r="2.00" fill="#3b7db5"/>
<circle cx="630.3" cy="439.5" r="2.00" fill="#3b7db5"/>
<circle cx="637.9" cy="437.5" r="2.00" fill="#3b7db5"/>
<circle cx="645.8" cy="437.5" r="2.00" fill="#3b7db5"/>
<circle cx="653.8" cy="433.1" r="2.00" fill="#3b7db5"/>
<rect x="533.9" y="474.5" width="4.0" height="4.0" fill="#ea7f28"/>
<rect x="542.1" y="461.4" width="4.0" height="4.0" fill="#ea7f28"/>
<rect x="550.0" y="452.2" width="4.0" height="4.0" fill="#ea7f28"/>
<rect x="557.6" y="445.1" width="4.0" height="4.0" fill="#ea7f28"/>
<rect x="565.6" y="450.7" width="4.0" height="4.0" fill="#ea7f28"/>
<rect x="573.0" y="441.0" width="4.0" height="4.0" fill="#ea7f28"/>
<rect x="577.0" y="442.5" width="4.0" height="4.0" fill="#ea7f28"/>
<rect x="581.1" y="439.5" width="4.0" height="4.0" fill="#ea7f28"/>
<rect x="588.3" y="434.4" width="4.0" height="4.0" fill="#ea7f28"/>
<rect x="596.5" y="434.1" width="4.0" height="4.0" fill="#ea7f28"/>
<rect x="604.2" y="436.7" width="4.0" height="4.0" fill="#ea7f28"/>
<rect x="608.3" y="435.7" width="4.0" height="4.0" fill="#ea7f28"/>
<rect x="620.4" y="430.6" width="4.0" height="4.0" fill="#ea7f28"/>
<rect x="628.3" y="434.2" width="4.0" height="4.0" fill="#ea7f28"/>
<rect x="635.9" y="428.5" width="4.0" height="4.0" fill="#ea7f28"/>
<rect x="643.8" y="431.1" width="4.0" height="4.0" fill="#ea7f28"/>
<rect x="651.8" y="426.5" width="4.0" height="4.0" fill="#ea7f28"/>
<polygon points="536.2,495.2 538.5,499.4 533.9,499.4" fill="#38a838"/>
<polygon points="544.5,482.2 546.8,486.4 542.2,486.4" fill="#38a838"/>
<polygon points="551.5,473.7 553.8,477.9 549.2,477.9" fill="#38a838"/>
<polygon points="559.6,463.5 561.9,467.7 557.3,467.7" fill="#38a838"/>
<polygon points="567.6,450.7 569.9,454.9 565.3,454.9" fill="#38a838"/>
<polygon points="571.4,446.6 573.7,450.8 569.1,450.8" fill="#38a838"/>
<polygon points="575.0,445.6 577.3,449.8 572.7,449.8" fill="#38a838"/>
<polygon points="579.0,449.2 581.3,453.4 576.7,453.4" fill="#38a838"/>
<polygon points="583.1,445.6 585.4,449.8 580.8,449.8" fill="#38a838"/>
<polygon points="587.2,454.3 589.5,458.5 584.9,458.5" fill="#38a838"/>
<polygon points="591.3,433.9 593.6,438.1 589.0,438.1" fill="#38a838"/>
<polygon points="595.4,438.4 597.7,442.6 593.1,442.6" fill="#38a838"/>
<polygon points="606.5,434.0 608.8,438.2 604.2,438.2" fill="#38a838"/>
<polygon points="614.4,431.1 616.7,435.3 612.1,435.3" fill="#38a838"/>
<polygon points="622.4,428.5 624.7,432.7 620.1,432.7" fill="#38a838"/>
<polygon points="630.3,426.0 632.6,430.2 628.0,430.2" fill="#38a838"/>
<polygon points="637.9,423.5 640.2,427.7 635.6,427.7" fill="#38a838"/>
<polygon points="645.8,423.5 648.1,427.7 643.5,427.7" fill="#38a838"/>
<polygon points="653.8,420.9 656.1,425.1 651.5,425.1" fill="#38a838"/>
<polygon points="536.2,579.8 538.6,582.5 536.2,585.2 533.8,582.5" fill="#cc2b2b"/>
<polygon points="544.0,573.9 546.4,576.6 544.0,579.4 541.6,576.6" fill="#cc2b2b"/>
<polygon points="552.3,524.4 554.7,527.1 552.3,529.9 549.9,527.1" fill="#cc2b2b"/>
<polygon points="559.8,492.6 562.2,495.3 559.8,498.1 557.4,495.3" fill="#cc2b2b"/>
<polygon points="567.0,469.2 569.4,472.0 567.0,474.8 564.6,472.0" fill="#cc2b2b"/>
<polygon points="571.4,463.8 573.8,466.5 571.4,469.2 569.0,466.5" fill="#cc2b2b"/>
<polygon points="575.5,459.1 577.9,461.9 575.5,464.6 573.1,461.9" fill="#cc2b2b"/>
<polygon points="583.1,449.9 585.5,452.7 583.1,455.4 580.7,452.7" fill="#cc2b2b"/>
<polygon points="587.2,451.9 589.6,454.7 587.2,457.4 584.8,454.7" fill="#cc2b2b"/>
<polygon points="591.3,442.8 593.7,445.5 591.3,448.2 588.9,445.5" fill="#cc2b2b"/>
<polygon points="595.4,442.8 597.8,445.5 595.4,448.2 593.0,445.5" fill="#cc2b2b"/>
<polygon points="599.0,438.2 601.4,441.0 599.0,443.8 596.6,441.0" fill="#cc2b2b"/>
<polygon points="602.7,428.9 605.1,431.6 602.7,434.4 600.3,431.6" fill="#cc2b2b"/>
<polygon points="606.8,429.9 609.2,432.6 606.8,435.4 604.4,432.6" fill="#cc2b2b"/>
<polygon points="614.4,426.2 616.8,429.0 614.4,431.8 612.0,429.0" fill="#cc2b2b"/>
<polygon points="622.4,424.2 624.8,427.0 622.4,429.8 620.0,427.0" fill="#cc2b2b"/>
<polygon points="630.3,422.1 632.7,424.9 630.3,427.6 627.9,424.9" fill="#cc2b2b"/>
<polygon points="637.9,419.6 640.3,422.4 637.9,425.1 635.5,422.4" fill="#cc2b2b"/>
<polygon points="645.8,417.6 648.2,420.3 645.8,423.1 643.4,420.3" fill="#cc2b2b"/>
<polygon points="653.8,417.1 656.2,419.8 653.8,422.6 651.4,419.8" fill="#cc2b2b"/>
<polygon points="659.9,417.6 662.3,420.3 659.9,423.1 657.5,420.3" fill="#cc2b2b"/>
</g>
<rect x="532.0" y="383.0" width="129.00" height="256.50" fill="none" stroke="#1c1c1c" stroke-width="2.0"/>
<line x1="533.0" y1="459.4" x2="535.0" y2="459.4" stroke="#666" stroke-width="0.6"/>
<line x1="533.0" y1="588.6" x2="535.0" y2="588.6" stroke="#666" stroke-width="0.6"/>
<line x1="550.7" y1="638.5" x2="550.7" y2="636.5" stroke="#666" stroke-width="0.6"/>
<line x1="590.3" y1="638.5" x2="590.3" y2="636.5" stroke="#666" stroke-width="0.6"/>
<line x1="630.0" y1="638.5" x2="630.0" y2="636.5" stroke="#666" stroke-width="0.6"/>
<text transform="translate(451.44,406.72) scale(0.9227,1)" font-size="35.27" font-family='"Liberation Serif", serif' font-style="normal" fill="#111" stroke="#ffffff" stroke-width="0.49">(e)</text>
<text transform="translate(484.65,468.87) scale(0.9146,1)" font-size="28.68" font-family='"Liberation Serif", serif' font-style="normal" fill="#111" stroke="#ffffff" stroke-width="0.35">0.65</text>
<text transform="translate(484.64,597.57) scale(0.9136,1)" font-size="28.97" font-family='"Liberation Serif", serif' font-style="normal" fill="#111" stroke="#ffffff" stroke-width="0.36">0.60</text>
<text transform="translate(532.32,662.82) scale(0.9290,1)" font-size="28.15" font-family='"Liberation Serif", serif' font-style="normal" fill="#111" stroke="#ffffff" stroke-width="0.34">290</text>
<text transform="translate(610.22,662.82) scale(0.9290,1)" font-size="28.15" font-family='"Liberation Serif", serif' font-style="normal" fill="#111" stroke="#ffffff" stroke-width="0.34">310</text>
<text transform="translate(557.59,689.60) scale(1.2736,1)" font-size="30.08" font-family='"Liberation Serif", serif' font-style="italic" fill="#111" stroke="#ffffff" stroke-width="0.32">P</text>
<text transform="translate(578.45,689.33) scale(1.0335,1)" font-size="27.29" font-family='"Liberation Serif", serif' font-style="italic" fill="#111" stroke="#ffffff" stroke-width="0.27">e</text>
<text transform="translate(592.40,696.48) scale(1.0037,1)" font-size="42.39" font-family='"Liberation Serif", serif' font-style="normal" fill="#111" stroke="#ffffff" stroke-width="0.63">/</text>
<text transform="translate(604.96,689.60) scale(1.1993,1)" font-size="27.87" font-family='"Liberation Serif", serif' font-style="italic" fill="#111" stroke="#ffffff" stroke-width="0.28">r</text>
<text transform="translate(618.77,693.77) scale(1.0765,1)" font-size="22.71" font-family='"Liberation Serif", serif' font-style="italic" fill="#111" stroke="#ffffff" stroke-width="0.19">c</text>
<text transform="translate(485.38,533.38) rotate(-90) scale(1.0029,1)" font-size="31.88" font-family='"Liberation Serif", serif' font-style="italic" fill="#111" stroke="#ffffff" stroke-width="0.35">U</text>
<text transform="translate(490.20,510.94) rotate(-90) scale(1.0368,1)" font-size="21.36" font-family='"Liberation Serif", serif' font-style="normal" fill="#111" stroke="#ffffff" stroke-width="0.21">4</text>
<rect x="8.9" y="315.2" width="1" height="1" fill="#aaa"/>
<rect x="8.9" y="325.9" width="1" height="1" fill="#aaa"/>
<rect x="8.9" y="339.2" width="1" height="1" fill="#aaa"/>
</svg>
</body></html>
